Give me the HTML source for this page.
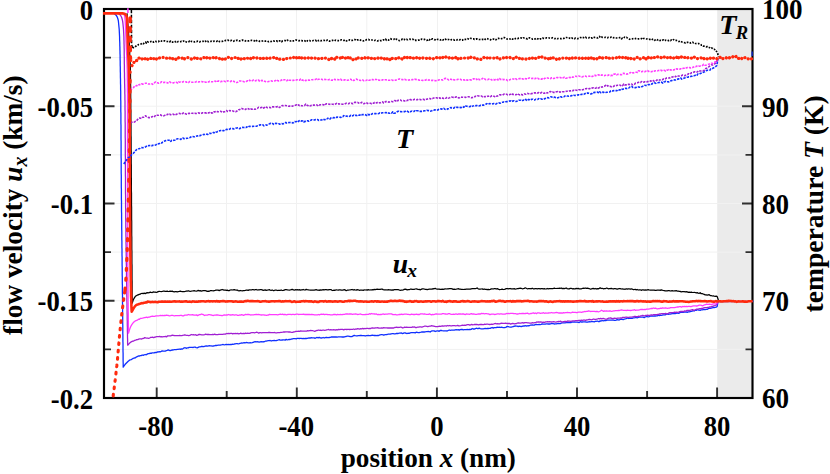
<!DOCTYPE html>
<html>
<head>
<meta charset="utf-8">
<title>Flow velocity and temperature profiles</title>
<style>
html,body{margin:0;padding:0;background:#fff;}
body{width:830px;height:474px;overflow:hidden;font-family:"Liberation Serif",serif;}
svg{display:block;}
</style>
</head>
<body>
<svg width="830" height="474" viewBox="0 0 830 474">
<rect x="0" y="0" width="830" height="474" fill="#ffffff"/>
<rect x="717.2" y="9.0" width="35.3" height="389.0" fill="#ebebeb"/>
<path d="M156.5 9.0 V398.0 M226.5 9.0 V398.0 M296.5 9.0 V398.0 M366.8 9.0 V398.0 M437.5 9.0 V398.0 M507.5 9.0 V398.0 M577.5 9.0 V398.0 M647.5 9.0 V398.0 M104.0 57.6 H752.5 M104.0 106.2 H752.5 M104.0 154.9 H752.5 M104.0 203.5 H752.5 M104.0 252.1 H752.5 M104.0 300.8 H752.5 M104.0 349.4 H752.5" stroke="#f1f1f1" stroke-width="1" fill="none"/>
<path d="M104.0 57.6 h7.0 M104.0 106.2 h10.5 M752.5 106.2 h-10.5 M104.0 154.9 h7.0 M752.5 154.9 h-7.0 M104.0 203.5 h10.5 M752.5 203.5 h-10.5 M104.0 252.1 h7.0 M752.5 252.1 h-7.0 M104.0 300.8 h10.5 M104.0 349.4 h7.0 M752.5 349.4 h-7.0 M156.7 398.0 v-10.5 M226.7 398.0 v-7.0 M296.8 398.0 v-10.5 M366.8 398.0 v-7.0 M436.9 398.0 v-10.5 M507.0 398.0 v-7.0 M577.0 398.0 v-10.5 M647.1 398.0 v-7.0 M717.1 398.0 v-10.5" stroke="#303030" stroke-width="1.9" fill="none"/>
<rect x="104.0" y="9.0" width="648.5" height="389.0" fill="none" stroke="#000" stroke-width="2.15"/>
<defs><clipPath id="c"><rect x="103.0" y="7.8" width="650.7" height="391.2"/></clipPath></defs>
<g clip-path="url(#c)" fill="none" stroke-linejoin="round">
<path d="M127.0 13.2 L127.2 15.2 L127.3 17.2 L127.5 19.2 L127.7 21.2 L127.8 23.2 L128.0 25.2 L128.2 27.2 L128.3 29.2 L128.4 31.2 L128.6 33.2 L128.7 35.2 L128.8 37.2 L129.0 39.2 L129.1 41.2 L129.2 43.2 L129.3 45.2 L129.4 47.2 L129.5 49.2 L129.6 51.2 L129.7 53.2 L129.8 55.2 L129.9 57.2 L130.0 59.2 L130.1 61.2 L130.2 63.2 L130.2 65.2 L130.3 67.2 L130.4 69.2 L130.4 71.2 L130.5 73.2 L130.5 75.2 L130.5 77.2 L130.6 79.2 L130.6 81.2 L130.6 83.2 L130.6 85.2 L130.7 87.2 L130.7 89.2 L130.7 91.2 L130.7 93.2 L130.7 95.2 L130.7 97.2 L130.8 99.2 L130.8 101.2 L130.8 103.2 L130.8 105.2 L130.8 107.2 L130.8 109.2 L130.9 111.2 L130.9 113.2 L130.9 115.2 L130.9 117.2 L130.9 119.2 L130.9 121.2 L131.0 123.2 L131.0 125.2 L131.0 127.2 L131.0 129.2 L131.0 131.2 L131.0 133.2 L131.0 135.2 L131.1 137.2 L131.1 139.2 L131.1 141.2 L131.1 143.2 L131.1 145.2 L131.1 147.2 L131.1 149.2 L131.2 151.2 L131.2 153.2 L131.2 155.2 L131.2 157.2 L131.2 159.2 L131.2 161.2 L131.2 163.2 L131.3 165.2 L131.3 167.2 L131.3 169.2 L131.3 171.2 L131.3 173.2 L131.3 175.2 L131.3 177.2 L131.4 179.2 L131.4 181.2 L131.4 183.2 L131.4 185.2 L131.4 187.2 L131.4 189.2 L131.4 191.2 L131.5 193.2 L131.5 195.2 L131.5 197.2 L131.5 199.2 L131.5 201.2 L131.5 203.2 L131.5 205.2 L131.6 207.2 L131.6 209.2 L131.6 211.2 L131.6 213.2 L131.6 215.2 L131.6 217.2 L131.6 219.2 L131.7 221.2 L131.7 223.2 L131.7 225.2 L131.7 227.2 L131.7 229.2 L131.7 231.2 L131.7 233.2 L131.7 235.2 L131.8 237.2 L131.8 239.2 L131.8 241.2 L131.8 243.2 L131.8 245.2 L131.8 247.2 L131.8 249.2 L131.9 251.2 L131.9 253.2 L131.9 255.2 L131.9 257.2 L131.9 259.2 L131.9 261.2 L131.9 263.2 L132.0 265.2 L132.0 267.2 L132.0 269.2 L132.0 271.2 L132.0 273.2 L132.0 275.2 L132.0 277.2 L132.0 279.2 L132.1 281.2 L132.1 283.2 L132.1 285.2 L132.1 287.2 L132.1 289.2 L132.1 291.2 L132.1 293.2 L132.1 295.2 L132.2 297.2 L132.2 299.2 L132.2 301.2 L132.2 303.2 L133.2 300.0 L134.2 298.1 L135.2 296.6 L136.2 295.8 L137.2 295.2 L138.2 294.8 L139.2 294.4 L140.2 294.2 L141.2 293.5 L142.2 293.3 L143.2 293.6 L144.2 293.2 L145.2 293.6 L146.2 293.1 L147.2 292.6 L148.2 292.9 L149.2 292.7 L150.2 292.1 L151.2 292.4 L152.2 292.6 L153.2 291.9 L154.2 292.1 L155.2 292.1 L156.2 292.4 L157.2 292.1 L158.2 291.6 L159.2 291.3 L160.2 291.5 L161.2 291.6 L162.2 291.5 L163.2 291.2 L164.2 291.2 L165.2 291.4 L166.2 291.3 L167.2 291.1 L168.2 291.5 L169.2 291.4 L170.2 291.1 L171.2 291.4 L172.2 291.1 L173.2 291.7 L174.2 291.8 L175.2 291.6 L176.2 291.6 L177.2 291.8 L178.2 291.6 L179.2 291.5 L180.2 291.1 L181.2 291.4 L182.2 291.6 L183.2 291.7 L184.2 291.6 L185.2 291.5 L186.2 291.0 L187.2 291.2 L188.2 290.7 L189.2 291.2 L190.2 291.3 L191.2 291.2 L192.2 291.0 L193.2 290.8 L194.2 290.7 L195.2 291.0 L196.2 291.2 L197.2 291.0 L198.2 290.4 L199.2 290.9 L200.2 290.7 L201.2 291.1 L202.2 290.8 L203.2 290.6 L204.2 290.6 L205.2 290.7 L206.2 290.9 L207.2 291.3 L208.2 291.1 L209.2 291.3 L210.2 290.7 L211.2 290.5 L212.2 290.7 L213.2 290.8 L214.2 290.6 L215.2 290.4 L216.2 290.0 L217.2 290.0 L218.2 290.2 L219.2 290.6 L220.2 290.1 L221.2 289.8 L222.2 289.5 L223.2 289.8 L224.2 290.2 L225.2 290.0 L226.2 290.4 L227.2 290.1 L228.2 290.6 L229.2 290.6 L230.2 290.0 L231.2 289.8 L232.2 290.0 L233.2 289.8 L234.2 289.6 L235.2 289.9 L236.2 290.1 L237.2 290.0 L238.2 290.6 L239.2 290.9 L240.2 290.5 L241.2 290.7 L242.2 290.8 L243.2 290.7 L244.2 290.6 L245.2 290.5 L246.2 290.1 L247.2 290.1 L248.2 290.4 L249.2 289.9 L250.2 289.8 L251.2 290.0 L252.2 289.7 L253.2 289.7 L254.2 290.0 L255.2 289.7 L256.2 289.5 L257.2 290.0 L258.2 289.9 L259.2 289.8 L260.2 289.7 L261.2 289.6 L262.2 289.9 L263.2 290.3 L264.2 290.1 L265.2 289.9 L266.2 290.4 L267.2 290.2 L268.2 290.0 L269.2 289.7 L270.2 290.1 L271.2 290.3 L272.2 290.0 L273.2 290.5 L274.2 290.5 L275.2 290.0 L276.2 290.0 L277.2 290.5 L278.2 290.3 L279.2 290.4 L280.2 290.3 L281.2 290.0 L282.2 290.5 L283.2 290.4 L284.2 290.2 L285.2 289.6 L286.2 289.7 L287.2 289.8 L288.2 290.0 L289.2 290.2 L290.2 290.0 L291.2 289.7 L292.2 289.4 L293.2 289.7 L294.2 290.2 L295.2 289.7 L296.2 289.8 L297.2 289.6 L298.2 290.0 L299.2 289.7 L300.2 290.1 L301.2 289.8 L302.2 289.9 L303.2 289.5 L304.2 289.9 L305.2 290.0 L306.2 289.3 L307.2 289.7 L308.2 289.8 L309.2 290.0 L310.2 290.2 L311.2 290.1 L312.2 290.2 L313.2 290.2 L314.2 290.1 L315.2 289.9 L316.2 289.7 L317.2 290.0 L318.2 290.0 L319.2 290.4 L320.2 289.8 L321.2 290.1 L322.2 289.8 L323.2 289.7 L324.2 289.8 L325.2 289.6 L326.2 289.6 L327.2 289.8 L328.2 289.9 L329.2 289.6 L330.2 289.6 L331.2 289.6 L332.2 290.5 L333.2 290.4 L334.2 290.1 L335.2 290.3 L336.2 289.8 L337.2 290.0 L338.2 290.2 L339.2 289.9 L340.2 289.9 L341.2 290.1 L342.2 290.0 L343.2 290.0 L344.2 289.6 L345.2 289.9 L346.2 290.7 L347.2 290.2 L348.2 290.2 L349.2 290.0 L350.2 289.8 L351.2 289.7 L352.2 289.5 L353.2 290.0 L354.2 289.7 L355.2 290.0 L356.2 290.1 L357.2 289.7 L358.2 289.8 L359.2 290.3 L360.2 290.2 L361.2 290.2 L362.2 290.2 L363.2 290.3 L364.2 289.9 L365.2 290.0 L366.2 289.8 L367.2 290.1 L368.2 289.6 L369.2 290.0 L370.2 289.9 L371.2 290.0 L372.2 289.7 L373.2 289.8 L374.2 289.4 L375.2 289.6 L376.2 289.3 L377.2 289.2 L378.2 289.3 L379.2 289.4 L380.2 289.4 L381.2 289.2 L382.2 289.1 L383.2 289.6 L384.2 289.8 L385.2 289.9 L386.2 289.8 L387.2 290.0 L388.2 289.7 L389.2 289.9 L390.2 289.8 L391.2 290.1 L392.2 289.9 L393.2 290.1 L394.2 289.7 L395.2 289.7 L396.2 289.5 L397.2 289.6 L398.2 289.7 L399.2 290.0 L400.2 290.3 L401.2 290.2 L402.2 290.2 L403.2 290.0 L404.2 289.4 L405.2 289.1 L406.2 289.4 L407.2 289.9 L408.2 289.7 L409.2 289.7 L410.2 289.2 L411.2 289.1 L412.2 289.4 L413.2 289.4 L414.2 289.3 L415.2 289.0 L416.2 288.9 L417.2 289.1 L418.2 289.5 L419.2 289.3 L420.2 289.9 L421.2 289.3 L422.2 288.9 L423.2 288.8 L424.2 289.0 L425.2 289.3 L426.2 289.3 L427.2 289.6 L428.2 289.3 L429.2 289.2 L430.2 289.2 L431.2 289.0 L432.2 289.1 L433.2 288.7 L434.2 288.8 L435.2 288.3 L436.2 289.0 L437.2 289.1 L438.2 289.1 L439.2 289.1 L440.2 289.4 L441.2 289.4 L442.2 289.1 L443.2 289.4 L444.2 289.1 L445.2 288.8 L446.2 289.0 L447.2 288.8 L448.2 288.9 L449.2 288.7 L450.2 288.7 L451.2 288.7 L452.2 288.9 L453.2 289.4 L454.2 289.2 L455.2 289.3 L456.2 289.2 L457.2 289.0 L458.2 288.7 L459.2 289.1 L460.2 289.2 L461.2 289.3 L462.2 289.3 L463.2 289.5 L464.2 289.4 L465.2 289.3 L466.2 289.1 L467.2 289.2 L468.2 289.1 L469.2 289.2 L470.2 289.1 L471.2 288.8 L472.2 288.6 L473.2 288.6 L474.2 288.6 L475.2 288.7 L476.2 288.4 L477.2 288.0 L478.2 288.9 L479.2 289.1 L480.2 289.2 L481.2 289.0 L482.2 288.9 L483.2 289.3 L484.2 289.0 L485.2 289.4 L486.2 289.4 L487.2 289.7 L488.2 289.3 L489.2 289.7 L490.2 289.5 L491.2 288.9 L492.2 288.8 L493.2 289.0 L494.2 288.7 L495.2 288.6 L496.2 289.0 L497.2 288.7 L498.2 289.1 L499.2 289.5 L500.2 289.5 L501.2 289.4 L502.2 289.1 L503.2 289.5 L504.2 289.4 L505.2 289.1 L506.2 288.7 L507.2 288.5 L508.2 288.9 L509.2 288.7 L510.2 288.5 L511.2 288.9 L512.2 288.9 L513.2 288.8 L514.2 288.7 L515.2 289.1 L516.2 289.0 L517.2 288.7 L518.2 288.7 L519.2 288.3 L520.2 288.2 L521.2 288.3 L522.2 288.8 L523.2 288.7 L524.2 288.5 L525.2 287.8 L526.2 288.3 L527.2 288.8 L528.2 288.7 L529.2 288.5 L530.2 288.5 L531.2 288.8 L532.2 288.2 L533.2 288.8 L534.2 288.8 L535.2 288.6 L536.2 288.7 L537.2 288.8 L538.2 288.6 L539.2 288.7 L540.2 288.9 L541.2 288.6 L542.2 288.6 L543.2 288.8 L544.2 288.7 L545.2 288.9 L546.2 289.0 L547.2 288.5 L548.2 288.9 L549.2 288.7 L550.2 288.7 L551.2 288.7 L552.2 288.5 L553.2 288.5 L554.2 288.2 L555.2 288.4 L556.2 288.5 L557.2 288.4 L558.2 288.5 L559.2 288.2 L560.2 288.3 L561.2 288.0 L562.2 288.6 L563.2 288.3 L564.2 288.6 L565.2 288.3 L566.2 288.0 L567.2 288.6 L568.2 288.8 L569.2 288.8 L570.2 288.4 L571.2 288.3 L572.2 288.8 L573.2 288.7 L574.2 288.8 L575.2 288.8 L576.2 288.4 L577.2 288.6 L578.2 288.4 L579.2 288.8 L580.2 288.8 L581.2 288.8 L582.2 288.5 L583.2 288.2 L584.2 288.3 L585.2 288.0 L586.2 288.3 L587.2 288.2 L588.2 288.4 L589.2 288.7 L590.2 289.0 L591.2 289.0 L592.2 288.6 L593.2 288.4 L594.2 288.8 L595.2 288.5 L596.2 289.0 L597.2 288.6 L598.2 288.9 L599.2 288.4 L600.2 287.8 L601.2 288.5 L602.2 288.3 L603.2 288.8 L604.2 288.6 L605.2 288.7 L606.2 288.2 L607.2 288.2 L608.2 288.8 L609.2 288.6 L610.2 288.6 L611.2 288.3 L612.2 288.7 L613.2 289.0 L614.2 288.6 L615.2 288.7 L616.2 288.8 L617.2 289.1 L618.2 288.8 L619.2 288.5 L620.2 288.6 L621.2 289.0 L622.2 288.8 L623.2 289.1 L624.2 289.2 L625.2 289.3 L626.2 288.7 L627.2 289.2 L628.2 288.9 L629.2 288.8 L630.2 289.3 L631.2 288.8 L632.2 289.1 L633.2 289.5 L634.2 289.5 L635.2 289.3 L636.2 289.9 L637.2 289.5 L638.2 290.0 L639.2 289.9 L640.2 289.8 L641.2 290.3 L642.2 289.9 L643.2 289.8 L644.2 290.1 L645.2 289.9 L646.2 290.1 L647.2 289.8 L648.2 289.7 L649.2 290.0 L650.2 290.2 L651.2 290.0 L652.2 290.0 L653.2 290.2 L654.2 290.1 L655.2 290.4 L656.2 290.3 L657.2 290.0 L658.2 290.0 L659.2 290.0 L660.2 290.4 L661.2 289.8 L662.2 290.2 L663.2 290.5 L664.2 290.6 L665.2 290.8 L666.2 290.9 L667.2 290.9 L668.2 290.7 L669.2 290.7 L670.2 291.0 L671.2 290.8 L672.2 290.7 L673.2 291.0 L674.2 290.8 L675.2 290.9 L676.2 290.6 L677.2 291.0 L678.2 291.0 L679.2 291.4 L680.2 291.4 L681.2 291.8 L682.2 291.7 L683.2 291.7 L684.2 291.6 L685.2 291.8 L686.2 291.7 L687.2 291.8 L688.2 292.4 L689.2 292.1 L690.2 292.3 L691.2 292.2 L692.2 292.4 L693.2 292.5 L694.2 292.4 L695.2 292.5 L696.2 292.9 L697.2 292.7 L698.2 293.1 L699.2 293.3 L700.2 292.7 L701.2 293.7 L702.2 293.6 L703.2 294.0 L704.2 294.4 L705.2 294.8 L706.2 294.8 L707.2 295.1 L708.2 294.9 L709.2 294.7 L710.2 295.5 L711.2 295.5 L712.2 296.0 L713.2 295.9 L714.2 296.2 L715.2 296.4 L716.2 296.1 L717.2 296.6 L718.2 299.5 L718.3 301.4" stroke="#000000" stroke-width="1.25"/>
<path d="M103.0 13.3 L112.3 13.3 L113.8 13.2 L116.1 15.2 L117.3 17.2 L118.0 19.2 L118.4 21.2 L118.6 23.2 L118.8 25.2 L119.0 27.2 L119.2 29.2 L119.3 31.2 L119.4 33.2 L119.5 35.2 L119.6 37.2 L119.6 39.2 L119.7 41.2 L119.8 43.2 L119.8 45.2 L119.9 47.2 L119.9 49.2 L120.0 51.2 L120.0 53.2 L120.1 55.2 L120.1 57.2 L120.1 59.2 L120.2 61.2 L120.2 63.2 L120.2 65.2 L120.3 67.2 L120.3 69.2 L120.3 71.2 L120.4 73.2 L120.4 75.2 L120.4 77.2 L120.5 79.2 L120.5 81.2 L120.5 83.2 L120.6 85.2 L120.6 87.2 L120.6 89.2 L120.7 91.2 L120.7 93.2 L120.7 95.2 L120.7 97.2 L120.7 99.2 L120.8 101.2 L120.8 103.2 L120.8 105.2 L120.8 107.2 L120.8 109.2 L120.8 111.2 L120.9 113.2 L120.9 115.2 L120.9 117.2 L120.9 119.2 L120.9 121.2 L120.9 123.2 L121.0 125.2 L121.0 127.2 L121.0 129.2 L121.0 131.2 L121.0 133.2 L121.0 135.2 L121.0 137.2 L121.0 139.2 L121.1 141.2 L121.1 143.2 L121.1 145.2 L121.1 147.2 L121.1 149.2 L121.1 151.2 L121.1 153.2 L121.1 155.2 L121.1 157.2 L121.2 159.2 L121.2 161.2 L121.2 163.2 L121.2 165.2 L121.2 167.2 L121.2 169.2 L121.2 171.2 L121.2 173.2 L121.3 175.2 L121.3 177.2 L121.3 179.2 L121.3 181.2 L121.3 183.2 L121.3 185.2 L121.3 187.2 L121.4 189.2 L121.4 191.2 L121.4 193.2 L121.4 195.2 L121.4 197.2 L121.4 199.2 L121.5 201.2 L121.5 203.2 L121.5 205.2 L121.5 207.2 L121.5 209.2 L121.5 211.2 L121.6 213.2 L121.6 215.2 L121.6 217.2 L121.6 219.2 L121.7 221.2 L121.7 223.2 L121.7 225.2 L121.7 227.2 L121.7 229.2 L121.8 231.2 L121.8 233.2 L121.8 235.2 L121.8 237.2 L121.8 239.2 L121.9 241.2 L121.9 243.2 L121.9 245.2 L121.9 247.2 L122.0 249.2 L122.0 251.2 L122.0 253.2 L122.0 255.2 L122.1 257.2 L122.1 259.2 L122.1 261.2 L122.1 263.2 L122.1 265.2 L122.2 267.2 L122.2 269.2 L122.2 271.2 L122.2 273.2 L122.2 275.2 L122.3 277.2 L122.3 279.2 L122.3 281.2 L122.3 283.2 L122.4 285.2 L122.4 287.2 L122.4 289.2 L122.4 291.2 L122.4 293.2 L122.5 295.2 L122.5 297.2 L122.5 299.2 L122.5 301.2 L122.5 303.2 L122.6 305.2 L122.6 307.2 L122.6 309.2 L122.6 311.2 L122.6 313.2 L122.7 315.2 L122.7 317.2 L122.7 319.2 L122.7 321.2 L122.7 323.2 L122.8 325.2 L122.8 327.2 L122.8 329.2 L122.8 331.2 L122.8 333.2 L122.9 335.2 L122.9 337.2 L122.9 339.2 L122.9 341.2 L123.0 343.2 L123.0 345.2 L123.0 347.2 L123.0 349.2 L123.0 351.2 L123.1 353.2 L123.1 355.2 L123.1 357.2 L123.1 359.2 L123.1 361.2 L123.2 363.2 L123.2 365.2 L123.2 367.2 L124.2 365.7 L125.2 364.3 L126.2 363.2 L127.2 362.2 L128.2 361.2 L129.2 360.4 L130.2 359.8 L131.2 359.6 L132.2 359.0 L133.2 358.4 L134.2 358.0 L135.2 357.9 L136.2 357.1 L137.2 356.7 L138.2 356.0 L139.2 356.1 L140.2 355.7 L141.2 355.6 L142.2 355.0 L143.2 355.4 L144.2 354.8 L145.2 354.5 L146.2 354.8 L147.2 354.1 L148.2 353.6 L149.2 353.6 L150.2 353.2 L151.2 353.4 L152.2 352.8 L153.2 352.8 L154.2 352.9 L155.2 352.4 L156.2 352.6 L157.2 352.0 L158.2 352.0 L159.2 351.6 L160.2 351.8 L161.2 351.4 L162.2 350.9 L163.2 351.2 L164.2 351.1 L165.2 351.2 L166.2 350.6 L167.2 350.3 L168.2 349.9 L169.2 350.3 L170.2 350.7 L171.2 350.3 L172.2 349.9 L173.2 350.0 L174.2 349.7 L175.2 349.7 L176.2 349.6 L177.2 349.4 L178.2 349.3 L179.2 349.0 L180.2 349.3 L181.2 348.8 L182.2 349.1 L183.2 348.5 L184.2 347.8 L185.2 347.7 L186.2 348.3 L187.2 347.9 L188.2 347.8 L189.2 347.3 L190.2 347.4 L191.2 347.4 L192.2 347.3 L193.2 347.5 L194.2 347.1 L195.2 347.2 L196.2 347.7 L197.2 347.8 L198.2 347.3 L199.2 346.9 L200.2 346.9 L201.2 346.5 L202.2 346.4 L203.2 346.6 L204.2 346.5 L205.2 346.1 L206.2 345.8 L207.2 346.1 L208.2 346.0 L209.2 345.7 L210.2 345.9 L211.2 345.9 L212.2 346.1 L213.2 346.0 L214.2 345.9 L215.2 345.5 L216.2 345.5 L217.2 345.3 L218.2 345.2 L219.2 345.2 L220.2 345.1 L221.2 344.8 L222.2 344.7 L223.2 344.5 L224.2 344.8 L225.2 344.7 L226.2 344.5 L227.2 344.7 L228.2 344.5 L229.2 344.6 L230.2 344.4 L231.2 344.7 L232.2 344.1 L233.2 344.3 L234.2 344.0 L235.2 343.9 L236.2 343.7 L237.2 343.6 L238.2 343.9 L239.2 343.7 L240.2 343.3 L241.2 343.0 L242.2 343.1 L243.2 342.9 L244.2 342.7 L245.2 342.9 L246.2 342.5 L247.2 342.6 L248.2 342.9 L249.2 342.8 L250.2 342.7 L251.2 342.8 L252.2 342.7 L253.2 342.3 L254.2 341.9 L255.2 341.6 L256.2 341.9 L257.2 341.7 L258.2 341.8 L259.2 342.2 L260.2 341.9 L261.2 341.6 L262.2 341.9 L263.2 341.7 L264.2 341.8 L265.2 341.2 L266.2 341.1 L267.2 340.8 L268.2 340.7 L269.2 340.6 L270.2 340.5 L271.2 341.0 L272.2 340.6 L273.2 340.6 L274.2 340.3 L275.2 340.6 L276.2 340.7 L277.2 340.3 L278.2 340.0 L279.2 339.7 L280.2 340.1 L281.2 340.2 L282.2 340.0 L283.2 339.8 L284.2 339.8 L285.2 340.1 L286.2 339.4 L287.2 339.8 L288.2 339.6 L289.2 339.3 L290.2 339.5 L291.2 339.2 L292.2 339.0 L293.2 338.6 L294.2 338.7 L295.2 338.6 L296.2 338.8 L297.2 338.4 L298.2 338.4 L299.2 338.5 L300.2 338.4 L301.2 338.3 L302.2 338.6 L303.2 338.5 L304.2 338.6 L305.2 338.4 L306.2 338.5 L307.2 338.4 L308.2 338.1 L309.2 337.8 L310.2 338.1 L311.2 337.7 L312.2 337.9 L313.2 337.9 L314.2 337.8 L315.2 338.3 L316.2 337.7 L317.2 337.5 L318.2 337.9 L319.2 337.3 L320.2 337.9 L321.2 338.0 L322.2 337.9 L323.2 337.5 L324.2 338.0 L325.2 337.6 L326.2 337.3 L327.2 337.5 L328.2 337.6 L329.2 337.5 L330.2 337.4 L331.2 337.0 L332.2 337.0 L333.2 336.8 L334.2 337.0 L335.2 337.0 L336.2 336.8 L337.2 337.1 L338.2 336.9 L339.2 336.9 L340.2 336.9 L341.2 336.8 L342.2 337.0 L343.2 336.8 L344.2 337.0 L345.2 336.6 L346.2 336.5 L347.2 336.1 L348.2 336.2 L349.2 336.3 L350.2 336.5 L351.2 336.6 L352.2 336.5 L353.2 335.9 L354.2 335.4 L355.2 335.7 L356.2 335.8 L357.2 335.9 L358.2 335.7 L359.2 335.6 L360.2 335.5 L361.2 335.4 L362.2 335.6 L363.2 335.7 L364.2 335.6 L365.2 336.0 L366.2 335.6 L367.2 335.6 L368.2 335.3 L369.2 335.6 L370.2 335.6 L371.2 335.5 L372.2 335.1 L373.2 335.4 L374.2 335.5 L375.2 335.5 L376.2 335.6 L377.2 335.4 L378.2 335.7 L379.2 335.1 L380.2 334.8 L381.2 334.7 L382.2 334.7 L383.2 335.0 L384.2 335.0 L385.2 334.6 L386.2 334.6 L387.2 334.5 L388.2 334.2 L389.2 334.2 L390.2 334.2 L391.2 333.8 L392.2 333.7 L393.2 333.7 L394.2 333.9 L395.2 333.9 L396.2 333.5 L397.2 333.5 L398.2 333.5 L399.2 333.2 L400.2 333.1 L401.2 332.9 L402.2 333.5 L403.2 333.3 L404.2 332.8 L405.2 332.8 L406.2 333.3 L407.2 333.5 L408.2 333.2 L409.2 333.3 L410.2 332.9 L411.2 332.7 L412.2 332.6 L413.2 332.7 L414.2 332.6 L415.2 332.9 L416.2 332.2 L417.2 332.3 L418.2 332.6 L419.2 332.6 L420.2 332.3 L421.2 332.2 L422.2 331.8 L423.2 332.0 L424.2 332.0 L425.2 331.8 L426.2 331.7 L427.2 331.7 L428.2 331.5 L429.2 331.6 L430.2 332.0 L431.2 331.2 L432.2 330.9 L433.2 330.9 L434.2 330.9 L435.2 331.5 L436.2 331.1 L437.2 330.9 L438.2 330.8 L439.2 331.3 L440.2 330.5 L441.2 330.5 L442.2 330.7 L443.2 330.8 L444.2 330.8 L445.2 330.8 L446.2 330.9 L447.2 331.0 L448.2 330.5 L449.2 330.0 L450.2 330.3 L451.2 330.2 L452.2 330.1 L453.2 330.2 L454.2 330.2 L455.2 329.9 L456.2 329.6 L457.2 329.8 L458.2 329.7 L459.2 330.1 L460.2 329.6 L461.2 329.5 L462.2 329.4 L463.2 329.8 L464.2 329.6 L465.2 329.6 L466.2 329.7 L467.2 329.5 L468.2 329.6 L469.2 329.5 L470.2 329.5 L471.2 329.4 L472.2 328.5 L473.2 329.0 L474.2 329.0 L475.2 328.8 L476.2 328.2 L477.2 328.5 L478.2 328.7 L479.2 328.2 L480.2 328.7 L481.2 328.8 L482.2 328.8 L483.2 328.9 L484.2 328.7 L485.2 328.5 L486.2 328.6 L487.2 328.5 L488.2 328.5 L489.2 328.4 L490.2 328.4 L491.2 327.9 L492.2 327.5 L493.2 328.1 L494.2 327.6 L495.2 327.6 L496.2 327.6 L497.2 327.2 L498.2 327.3 L499.2 327.2 L500.2 327.5 L501.2 327.2 L502.2 327.4 L503.2 327.7 L504.2 327.6 L505.2 327.5 L506.2 327.1 L507.2 326.4 L508.2 326.6 L509.2 326.9 L510.2 327.1 L511.2 327.1 L512.2 326.8 L513.2 326.5 L514.2 326.3 L515.2 325.8 L516.2 326.1 L517.2 326.2 L518.2 326.6 L519.2 326.2 L520.2 326.3 L521.2 326.5 L522.2 326.3 L523.2 325.9 L524.2 326.1 L525.2 325.6 L526.2 326.0 L527.2 325.8 L528.2 325.6 L529.2 325.8 L530.2 325.2 L531.2 325.2 L532.2 324.9 L533.2 325.2 L534.2 325.1 L535.2 324.6 L536.2 324.4 L537.2 324.6 L538.2 324.7 L539.2 324.4 L540.2 324.6 L541.2 324.4 L542.2 323.8 L543.2 324.1 L544.2 324.1 L545.2 324.1 L546.2 323.8 L547.2 323.8 L548.2 324.0 L549.2 323.8 L550.2 324.0 L551.2 323.7 L552.2 323.7 L553.2 323.6 L554.2 324.0 L555.2 323.9 L556.2 323.9 L557.2 323.6 L558.2 323.4 L559.2 323.6 L560.2 323.6 L561.2 323.1 L562.2 322.8 L563.2 322.8 L564.2 322.9 L565.2 322.9 L566.2 322.5 L567.2 322.7 L568.2 322.5 L569.2 322.7 L570.2 322.5 L571.2 322.5 L572.2 321.8 L573.2 322.1 L574.2 321.9 L575.2 322.2 L576.2 322.1 L577.2 322.2 L578.2 322.3 L579.2 322.5 L580.2 321.7 L581.2 322.0 L582.2 322.0 L583.2 321.9 L584.2 321.8 L585.2 321.8 L586.2 322.0 L587.2 322.1 L588.2 322.0 L589.2 321.7 L590.2 321.8 L591.2 321.7 L592.2 321.6 L593.2 321.6 L594.2 321.8 L595.2 321.4 L596.2 321.4 L597.2 321.0 L598.2 321.5 L599.2 321.6 L600.2 320.9 L601.2 321.0 L602.2 320.5 L603.2 320.9 L604.2 320.6 L605.2 320.4 L606.2 320.5 L607.2 320.1 L608.2 320.1 L609.2 320.2 L610.2 320.2 L611.2 320.1 L612.2 320.1 L613.2 320.0 L614.2 320.4 L615.2 320.4 L616.2 320.1 L617.2 319.6 L618.2 319.8 L619.2 320.0 L620.2 319.5 L621.2 319.2 L622.2 319.3 L623.2 319.6 L624.2 319.1 L625.2 318.9 L626.2 318.6 L627.2 318.0 L628.2 318.5 L629.2 318.1 L630.2 318.4 L631.2 318.3 L632.2 318.3 L633.2 317.9 L634.2 317.8 L635.2 317.7 L636.2 317.5 L637.2 317.9 L638.2 317.5 L639.2 317.2 L640.2 317.2 L641.2 317.1 L642.2 317.2 L643.2 317.1 L644.2 317.6 L645.2 317.0 L646.2 316.7 L647.2 316.6 L648.2 316.8 L649.2 316.7 L650.2 316.2 L651.2 316.2 L652.2 316.0 L653.2 316.1 L654.2 316.0 L655.2 316.0 L656.2 315.8 L657.2 315.9 L658.2 315.1 L659.2 315.6 L660.2 315.4 L661.2 315.3 L662.2 315.2 L663.2 314.8 L664.2 314.8 L665.2 314.8 L666.2 314.4 L667.2 313.9 L668.2 314.3 L669.2 314.1 L670.2 314.2 L671.2 313.9 L672.2 313.6 L673.2 313.5 L674.2 313.4 L675.2 313.5 L676.2 313.3 L677.2 313.0 L678.2 313.4 L679.2 313.1 L680.2 312.4 L681.2 312.2 L682.2 312.4 L683.2 312.3 L684.2 312.1 L685.2 312.1 L686.2 311.9 L687.2 312.3 L688.2 311.8 L689.2 311.8 L690.2 311.6 L691.2 311.4 L692.2 311.1 L693.2 310.7 L694.2 311.0 L695.2 310.3 L696.2 310.4 L697.2 309.7 L698.2 310.0 L699.2 310.1 L700.2 310.4 L701.2 309.8 L702.2 309.8 L703.2 309.6 L704.2 309.5 L705.2 309.6 L706.2 309.4 L707.2 309.4 L708.2 308.7 L709.2 308.3 L710.2 308.4 L711.2 308.2 L712.2 307.8 L713.2 307.5 L714.2 307.7 L715.2 307.3 L716.2 307.2 L717.2 306.5 L718.0 301.6 L753.6 301.4" stroke="#0f2fff" stroke-width="1.3"/>
<path d="M103.0 13.3 L116.8 13.3 L118.3 13.2 L120.5 15.2 L121.6 17.2 L122.2 19.2 L122.6 21.2 L122.9 23.2 L123.1 25.2 L123.3 27.2 L123.5 29.2 L123.6 31.2 L123.7 33.2 L123.8 35.2 L123.9 37.2 L123.9 39.2 L124.0 41.2 L124.0 43.2 L124.1 45.2 L124.1 47.2 L124.2 49.2 L124.2 51.2 L124.2 53.2 L124.2 55.2 L124.3 57.2 L124.3 59.2 L124.3 61.2 L124.3 63.2 L124.4 65.2 L124.4 67.2 L124.4 69.2 L124.4 71.2 L124.5 73.2 L124.5 75.2 L124.5 77.2 L124.6 79.2 L124.6 81.2 L124.6 83.2 L124.7 85.2 L124.7 87.2 L124.8 89.2 L124.8 91.2 L124.8 93.2 L124.9 95.2 L124.9 97.2 L124.9 99.2 L125.0 101.2 L125.0 103.2 L125.0 105.2 L125.0 107.2 L125.0 109.2 L125.1 111.2 L125.1 113.2 L125.1 115.2 L125.1 117.2 L125.1 119.2 L125.1 121.2 L125.2 123.2 L125.2 125.2 L125.2 127.2 L125.2 129.2 L125.2 131.2 L125.2 133.2 L125.2 135.2 L125.2 137.2 L125.3 139.2 L125.3 141.2 L125.3 143.2 L125.3 145.2 L125.3 147.2 L125.3 149.2 L125.3 151.2 L125.3 153.2 L125.3 155.2 L125.4 157.2 L125.4 159.2 L125.4 161.2 L125.4 163.2 L125.4 165.2 L125.4 167.2 L125.4 169.2 L125.4 171.2 L125.4 173.2 L125.4 175.2 L125.5 177.2 L125.5 179.2 L125.5 181.2 L125.5 183.2 L125.5 185.2 L125.5 187.2 L125.5 189.2 L125.5 191.2 L125.5 193.2 L125.6 195.2 L125.6 197.2 L125.6 199.2 L125.6 201.2 L125.6 203.2 L125.6 205.2 L125.6 207.2 L125.7 209.2 L125.7 211.2 L125.7 213.2 L125.7 215.2 L125.7 217.2 L125.7 219.2 L125.8 221.2 L125.8 223.2 L125.8 225.2 L125.8 227.2 L125.9 229.2 L125.9 231.2 L125.9 233.2 L125.9 235.2 L126.0 237.2 L126.0 239.2 L126.0 241.2 L126.0 243.2 L126.1 245.2 L126.1 247.2 L126.1 249.2 L126.2 251.2 L126.2 253.2 L126.2 255.2 L126.3 257.2 L126.3 259.2 L126.3 261.2 L126.3 263.2 L126.4 265.2 L126.4 267.2 L126.4 269.2 L126.5 271.2 L126.5 273.2 L126.5 275.2 L126.6 277.2 L126.6 279.2 L126.6 281.2 L126.6 283.2 L126.7 285.2 L126.7 287.2 L126.7 289.2 L126.8 291.2 L126.8 293.2 L126.8 295.2 L126.9 297.2 L126.9 299.2 L126.9 301.2 L127.0 303.2 L127.0 305.2 L127.0 307.2 L127.1 309.2 L127.1 311.2 L127.1 313.2 L127.2 315.2 L127.2 317.2 L127.2 319.2 L127.3 321.2 L127.3 323.2 L127.3 325.2 L127.4 327.2 L127.4 329.2 L127.4 331.2 L127.5 333.2 L127.5 335.2 L127.5 337.2 L127.6 339.2 L127.6 341.2 L127.6 343.2 L127.7 345.2 L128.7 344.1 L129.7 343.0 L130.7 342.2 L131.7 341.7 L132.7 341.2 L133.7 341.1 L134.7 340.3 L135.7 340.2 L136.7 339.7 L137.7 339.6 L138.7 339.1 L139.7 338.9 L140.7 338.9 L141.7 339.0 L142.7 338.5 L143.7 338.4 L144.7 337.6 L145.7 337.9 L146.7 338.1 L147.7 338.2 L148.7 338.4 L149.7 338.0 L150.7 337.3 L151.7 337.4 L152.7 337.1 L153.7 337.7 L154.7 337.1 L155.7 337.0 L156.7 336.6 L157.7 336.6 L158.7 336.7 L159.7 336.4 L160.7 336.8 L161.7 336.6 L162.7 336.8 L163.7 336.7 L164.7 336.7 L165.7 336.3 L166.7 336.8 L167.7 335.8 L168.7 335.9 L169.7 335.9 L170.7 335.8 L171.7 335.4 L172.7 335.2 L173.7 335.5 L174.7 335.6 L175.7 335.6 L176.7 335.7 L177.7 335.7 L178.7 335.7 L179.7 335.5 L180.7 335.6 L181.7 335.7 L182.7 335.4 L183.7 335.2 L184.7 334.8 L185.7 335.2 L186.7 335.4 L187.7 335.3 L188.7 335.6 L189.7 335.3 L190.7 334.8 L191.7 334.5 L192.7 334.8 L193.7 334.7 L194.7 335.0 L195.7 334.7 L196.7 335.4 L197.7 335.2 L198.7 334.4 L199.7 334.5 L200.7 334.6 L201.7 334.8 L202.7 334.8 L203.7 334.8 L204.7 334.7 L205.7 334.2 L206.7 334.5 L207.7 334.5 L208.7 334.5 L209.7 334.7 L210.7 334.7 L211.7 334.6 L212.7 334.4 L213.7 334.6 L214.7 334.2 L215.7 334.6 L216.7 334.6 L217.7 334.7 L218.7 334.4 L219.7 334.3 L220.7 334.3 L221.7 334.3 L222.7 334.3 L223.7 334.1 L224.7 334.2 L225.7 334.0 L226.7 333.5 L227.7 333.6 L228.7 333.3 L229.7 333.7 L230.7 333.4 L231.7 333.4 L232.7 333.9 L233.7 333.5 L234.7 333.6 L235.7 333.5 L236.7 333.6 L237.7 333.4 L238.7 333.8 L239.7 333.7 L240.7 333.1 L241.7 333.6 L242.7 333.5 L243.7 333.3 L244.7 333.6 L245.7 333.1 L246.7 333.5 L247.7 333.2 L248.7 333.3 L249.7 333.3 L250.7 332.8 L251.7 332.7 L252.7 332.6 L253.7 332.6 L254.7 332.8 L255.7 332.5 L256.7 332.2 L257.7 332.5 L258.7 333.2 L259.7 332.7 L260.7 332.6 L261.7 332.9 L262.7 332.7 L263.7 332.7 L264.7 332.7 L265.7 332.7 L266.7 332.6 L267.7 332.7 L268.7 332.5 L269.7 332.5 L270.7 332.7 L271.7 332.6 L272.7 332.7 L273.7 332.7 L274.7 332.5 L275.7 332.8 L276.7 332.8 L277.7 332.7 L278.7 332.7 L279.7 332.6 L280.7 332.4 L281.7 332.3 L282.7 332.2 L283.7 332.0 L284.7 332.0 L285.7 331.8 L286.7 331.8 L287.7 331.8 L288.7 332.0 L289.7 331.8 L290.7 332.2 L291.7 332.4 L292.7 332.3 L293.7 331.8 L294.7 331.8 L295.7 331.4 L296.7 331.4 L297.7 331.3 L298.7 331.2 L299.7 331.3 L300.7 330.9 L301.7 331.2 L302.7 331.1 L303.7 331.2 L304.7 331.1 L305.7 331.1 L306.7 331.1 L307.7 330.7 L308.7 330.8 L309.7 330.6 L310.7 330.4 L311.7 330.6 L312.7 330.7 L313.7 331.0 L314.7 331.3 L315.7 330.8 L316.7 330.5 L317.7 330.3 L318.7 330.0 L319.7 330.3 L320.7 330.1 L321.7 330.5 L322.7 330.2 L323.7 330.2 L324.7 330.3 L325.7 330.2 L326.7 329.8 L327.7 329.7 L328.7 329.5 L329.7 330.0 L330.7 329.6 L331.7 329.9 L332.7 329.8 L333.7 329.7 L334.7 329.8 L335.7 330.0 L336.7 329.7 L337.7 329.8 L338.7 329.3 L339.7 329.6 L340.7 329.3 L341.7 329.4 L342.7 329.4 L343.7 329.9 L344.7 329.4 L345.7 329.3 L346.7 329.5 L347.7 329.4 L348.7 329.4 L349.7 329.5 L350.7 329.3 L351.7 329.3 L352.7 329.3 L353.7 329.0 L354.7 329.5 L355.7 329.0 L356.7 329.1 L357.7 328.7 L358.7 328.8 L359.7 329.1 L360.7 328.7 L361.7 328.8 L362.7 328.3 L363.7 328.9 L364.7 328.5 L365.7 328.6 L366.7 328.4 L367.7 328.4 L368.7 328.7 L369.7 328.5 L370.7 328.5 L371.7 328.0 L372.7 328.0 L373.7 328.1 L374.7 328.0 L375.7 327.8 L376.7 327.8 L377.7 327.7 L378.7 328.2 L379.7 328.1 L380.7 328.1 L381.7 327.9 L382.7 328.1 L383.7 327.6 L384.7 327.9 L385.7 327.8 L386.7 327.9 L387.7 328.0 L388.7 327.9 L389.7 328.0 L390.7 328.0 L391.7 328.0 L392.7 327.9 L393.7 328.0 L394.7 327.5 L395.7 327.3 L396.7 327.2 L397.7 327.5 L398.7 327.3 L399.7 327.3 L400.7 327.0 L401.7 327.4 L402.7 328.0 L403.7 327.7 L404.7 327.2 L405.7 327.4 L406.7 327.2 L407.7 327.4 L408.7 327.4 L409.7 327.4 L410.7 327.4 L411.7 327.3 L412.7 326.9 L413.7 327.2 L414.7 327.0 L415.7 327.6 L416.7 327.5 L417.7 327.2 L418.7 327.2 L419.7 326.9 L420.7 326.8 L421.7 327.1 L422.7 326.8 L423.7 326.5 L424.7 326.2 L425.7 326.2 L426.7 326.3 L427.7 326.6 L428.7 326.3 L429.7 326.2 L430.7 326.2 L431.7 325.7 L432.7 326.0 L433.7 326.1 L434.7 326.4 L435.7 326.7 L436.7 326.7 L437.7 326.7 L438.7 326.3 L439.7 326.2 L440.7 326.3 L441.7 326.0 L442.7 326.0 L443.7 326.1 L444.7 325.8 L445.7 325.9 L446.7 326.0 L447.7 325.5 L448.7 325.8 L449.7 325.5 L450.7 325.8 L451.7 325.8 L452.7 325.6 L453.7 325.7 L454.7 325.7 L455.7 325.8 L456.7 325.6 L457.7 325.3 L458.7 325.8 L459.7 325.8 L460.7 325.6 L461.7 325.3 L462.7 325.2 L463.7 325.3 L464.7 325.2 L465.7 325.4 L466.7 324.8 L467.7 324.6 L468.7 324.7 L469.7 325.2 L470.7 324.8 L471.7 324.4 L472.7 324.8 L473.7 324.6 L474.7 324.3 L475.7 324.5 L476.7 324.3 L477.7 324.6 L478.7 324.9 L479.7 324.5 L480.7 324.5 L481.7 324.4 L482.7 324.7 L483.7 324.6 L484.7 324.2 L485.7 324.3 L486.7 324.1 L487.7 324.2 L488.7 324.3 L489.7 324.5 L490.7 324.3 L491.7 324.1 L492.7 324.4 L493.7 324.0 L494.7 323.6 L495.7 323.5 L496.7 323.9 L497.7 323.7 L498.7 323.9 L499.7 323.8 L500.7 323.4 L501.7 323.2 L502.7 323.4 L503.7 323.4 L504.7 323.4 L505.7 323.2 L506.7 323.5 L507.7 323.3 L508.7 323.5 L509.7 323.5 L510.7 324.1 L511.7 323.7 L512.7 323.4 L513.7 323.6 L514.7 323.9 L515.7 323.6 L516.7 323.5 L517.7 323.0 L518.7 323.0 L519.7 323.2 L520.7 323.1 L521.7 322.8 L522.7 322.7 L523.7 323.1 L524.7 322.7 L525.7 322.7 L526.7 322.7 L527.7 322.8 L528.7 322.9 L529.7 323.1 L530.7 323.1 L531.7 323.0 L532.7 322.6 L533.7 323.0 L534.7 322.7 L535.7 322.6 L536.7 322.0 L537.7 322.2 L538.7 321.8 L539.7 322.2 L540.7 321.9 L541.7 322.1 L542.7 322.4 L543.7 322.1 L544.7 322.5 L545.7 321.8 L546.7 321.8 L547.7 321.6 L548.7 321.9 L549.7 321.7 L550.7 321.9 L551.7 322.0 L552.7 321.8 L553.7 321.6 L554.7 321.9 L555.7 322.1 L556.7 321.8 L557.7 321.6 L558.7 321.5 L559.7 321.7 L560.7 321.2 L561.7 322.0 L562.7 321.9 L563.7 321.6 L564.7 321.5 L565.7 321.4 L566.7 321.6 L567.7 321.0 L568.7 321.1 L569.7 321.1 L570.7 321.4 L571.7 321.1 L572.7 320.9 L573.7 320.8 L574.7 320.9 L575.7 320.7 L576.7 320.6 L577.7 320.6 L578.7 320.5 L579.7 320.4 L580.7 320.4 L581.7 320.2 L582.7 320.3 L583.7 320.0 L584.7 320.1 L585.7 320.4 L586.7 319.9 L587.7 319.9 L588.7 319.5 L589.7 319.5 L590.7 319.6 L591.7 319.8 L592.7 319.4 L593.7 319.0 L594.7 319.3 L595.7 319.5 L596.7 319.2 L597.7 318.9 L598.7 318.5 L599.7 318.9 L600.7 318.3 L601.7 318.8 L602.7 318.5 L603.7 318.5 L604.7 318.9 L605.7 319.2 L606.7 319.2 L607.7 318.6 L608.7 318.2 L609.7 318.1 L610.7 317.9 L611.7 318.5 L612.7 318.7 L613.7 318.4 L614.7 318.2 L615.7 318.4 L616.7 318.4 L617.7 318.1 L618.7 318.2 L619.7 318.2 L620.7 318.0 L621.7 318.1 L622.7 317.4 L623.7 317.4 L624.7 317.5 L625.7 317.2 L626.7 317.1 L627.7 317.3 L628.7 317.3 L629.7 317.2 L630.7 317.1 L631.7 317.1 L632.7 316.9 L633.7 316.7 L634.7 316.3 L635.7 316.5 L636.7 316.6 L637.7 316.6 L638.7 316.2 L639.7 316.5 L640.7 315.9 L641.7 315.7 L642.7 315.3 L643.7 315.6 L644.7 315.8 L645.7 315.4 L646.7 315.3 L647.7 315.2 L648.7 315.5 L649.7 315.3 L650.7 315.0 L651.7 315.0 L652.7 315.1 L653.7 314.7 L654.7 314.6 L655.7 314.6 L656.7 314.6 L657.7 314.5 L658.7 314.4 L659.7 313.8 L660.7 314.0 L661.7 313.6 L662.7 313.7 L663.7 313.6 L664.7 313.7 L665.7 313.4 L666.7 314.0 L667.7 313.7 L668.7 313.1 L669.7 312.7 L670.7 312.6 L671.7 312.6 L672.7 312.6 L673.7 312.4 L674.7 312.1 L675.7 312.4 L676.7 312.2 L677.7 312.4 L678.7 312.2 L679.7 311.7 L680.7 311.5 L681.7 311.4 L682.7 311.5 L683.7 311.6 L684.7 310.9 L685.7 311.2 L686.7 310.5 L687.7 310.5 L688.7 310.4 L689.7 310.5 L690.7 310.2 L691.7 309.9 L692.7 309.6 L693.7 310.4 L694.7 310.0 L695.7 309.6 L696.7 309.2 L697.7 309.1 L698.7 309.0 L699.7 308.7 L700.7 308.7 L701.7 308.5 L702.7 308.3 L703.7 307.8 L704.7 307.7 L705.7 307.7 L706.7 307.7 L707.7 307.3 L708.7 307.3 L709.7 306.9 L710.7 307.0 L711.7 306.5 L712.7 306.3 L713.7 305.8 L714.7 305.7 L715.7 305.2 L716.7 304.8 L718.0 301.6" stroke="#a01fd2" stroke-width="1.3"/>
<path d="M103.0 13.3 L121.0 13.3 L122.6 13.2 L124.4 15.2 L124.8 17.2 L125.0 19.2 L125.2 21.2 L125.3 23.2 L125.4 25.2 L125.5 27.2 L125.6 29.2 L125.7 31.2 L125.7 33.2 L125.8 35.2 L125.9 37.2 L125.9 39.2 L126.0 41.2 L126.1 43.2 L126.2 45.2 L126.3 47.2 L126.4 49.2 L126.5 51.2 L126.6 53.2 L126.7 55.2 L126.8 57.2 L126.8 59.2 L126.9 61.2 L127.0 63.2 L127.1 65.2 L127.1 67.2 L127.2 69.2 L127.2 71.2 L127.3 73.2 L127.3 75.2 L127.3 77.2 L127.3 79.2 L127.4 81.2 L127.4 83.2 L127.4 85.2 L127.4 87.2 L127.4 89.2 L127.4 91.2 L127.5 93.2 L127.5 95.2 L127.5 97.2 L127.5 99.2 L127.5 101.2 L127.5 103.2 L127.5 105.2 L127.5 107.2 L127.5 109.2 L127.5 111.2 L127.5 113.2 L127.5 115.2 L127.5 117.2 L127.5 119.2 L127.5 121.2 L127.5 123.2 L127.5 125.2 L127.5 127.2 L127.5 129.2 L127.5 131.2 L127.5 133.2 L127.5 135.2 L127.5 137.2 L127.5 139.2 L127.5 141.2 L127.5 143.2 L127.5 145.2 L127.5 147.2 L127.5 149.2 L127.5 151.2 L127.6 153.2 L127.6 155.2 L127.6 157.2 L127.6 159.2 L127.6 161.2 L127.6 163.2 L127.6 165.2 L127.6 167.2 L127.6 169.2 L127.6 171.2 L127.6 173.2 L127.6 175.2 L127.6 177.2 L127.6 179.2 L127.6 181.2 L127.6 183.2 L127.6 185.2 L127.6 187.2 L127.6 189.2 L127.6 191.2 L127.6 193.2 L127.6 195.2 L127.6 197.2 L127.6 199.2 L127.6 201.2 L127.6 203.2 L127.6 205.2 L127.6 207.2 L127.6 209.2 L127.6 211.2 L127.6 213.2 L127.6 215.2 L127.6 217.2 L127.6 219.2 L127.6 221.2 L127.6 223.2 L127.6 225.2 L127.6 227.2 L127.6 229.2 L127.6 231.2 L127.7 233.2 L127.7 235.2 L127.7 237.2 L127.7 239.2 L127.7 241.2 L127.7 243.2 L127.7 245.2 L127.7 247.2 L127.7 249.2 L127.7 251.2 L127.8 253.2 L127.8 255.2 L127.8 257.2 L127.8 259.2 L127.8 261.2 L127.8 263.2 L127.8 265.2 L127.9 267.2 L127.9 269.2 L127.9 271.2 L127.9 273.2 L127.9 275.2 L127.9 277.2 L127.9 279.2 L128.0 281.2 L128.0 283.2 L128.0 285.2 L128.0 287.2 L128.0 289.2 L128.1 291.2 L128.1 293.2 L128.1 295.2 L128.1 297.2 L128.1 299.2 L128.1 301.2 L128.2 303.2 L128.2 305.2 L128.2 307.2 L128.2 309.2 L128.2 311.2 L128.3 313.2 L128.3 315.2 L128.3 317.2 L128.3 319.2 L128.4 321.2 L128.4 323.2 L128.4 325.2 L128.4 327.2 L128.4 329.2 L128.5 331.2 L128.5 333.2 L129.5 329.8 L130.5 327.0 L131.5 325.1 L132.5 323.7 L133.5 322.3 L134.5 321.6 L135.5 320.8 L136.5 320.3 L137.5 320.1 L138.5 319.2 L139.5 319.3 L140.5 318.3 L141.5 318.4 L142.5 318.2 L143.5 317.9 L144.5 317.6 L145.5 317.5 L146.5 317.2 L147.5 317.6 L148.5 317.2 L149.5 317.1 L150.5 316.7 L151.5 316.4 L152.5 316.1 L153.5 316.3 L154.5 316.3 L155.5 316.0 L156.5 315.9 L157.5 315.9 L158.5 315.8 L159.5 315.7 L160.5 315.5 L161.5 315.7 L162.5 315.5 L163.5 315.6 L164.5 315.4 L165.5 315.5 L166.5 315.2 L167.5 315.4 L168.5 315.5 L169.5 315.9 L170.5 315.7 L171.5 315.4 L172.5 315.4 L173.5 315.7 L174.5 315.8 L175.5 315.7 L176.5 315.6 L177.5 315.6 L178.5 315.6 L179.5 315.7 L180.5 315.4 L181.5 315.3 L182.5 315.8 L183.5 315.9 L184.5 315.2 L185.5 315.2 L186.5 315.1 L187.5 315.0 L188.5 314.5 L189.5 314.8 L190.5 314.9 L191.5 314.8 L192.5 314.6 L193.5 315.0 L194.5 315.2 L195.5 315.1 L196.5 314.9 L197.5 315.6 L198.5 315.1 L199.5 314.7 L200.5 314.6 L201.5 314.0 L202.5 314.3 L203.5 314.7 L204.5 315.5 L205.5 315.2 L206.5 315.2 L207.5 315.1 L208.5 314.7 L209.5 314.6 L210.5 314.8 L211.5 315.0 L212.5 315.3 L213.5 315.5 L214.5 315.2 L215.5 315.2 L216.5 314.9 L217.5 315.0 L218.5 315.1 L219.5 315.3 L220.5 315.3 L221.5 315.5 L222.5 315.6 L223.5 315.2 L224.5 315.0 L225.5 315.1 L226.5 315.0 L227.5 315.0 L228.5 314.5 L229.5 314.9 L230.5 315.0 L231.5 315.0 L232.5 314.7 L233.5 314.9 L234.5 315.2 L235.5 314.9 L236.5 314.8 L237.5 315.4 L238.5 315.4 L239.5 315.0 L240.5 315.1 L241.5 314.7 L242.5 314.9 L243.5 315.3 L244.5 314.9 L245.5 314.4 L246.5 314.6 L247.5 314.5 L248.5 314.4 L249.5 314.7 L250.5 315.0 L251.5 314.9 L252.5 314.8 L253.5 314.8 L254.5 314.6 L255.5 314.5 L256.5 314.3 L257.5 314.7 L258.5 314.5 L259.5 314.6 L260.5 314.9 L261.5 315.0 L262.5 314.8 L263.5 314.8 L264.5 315.0 L265.5 315.1 L266.5 315.4 L267.5 315.2 L268.5 315.0 L269.5 314.4 L270.5 314.7 L271.5 314.6 L272.5 314.7 L273.5 314.6 L274.5 314.6 L275.5 314.6 L276.5 314.7 L277.5 314.8 L278.5 314.6 L279.5 314.4 L280.5 314.2 L281.5 314.5 L282.5 314.2 L283.5 314.6 L284.5 314.4 L285.5 314.5 L286.5 314.8 L287.5 314.5 L288.5 314.4 L289.5 314.4 L290.5 314.4 L291.5 314.7 L292.5 314.4 L293.5 314.4 L294.5 314.6 L295.5 314.3 L296.5 314.1 L297.5 314.1 L298.5 314.5 L299.5 314.3 L300.5 314.4 L301.5 314.3 L302.5 314.4 L303.5 314.1 L304.5 314.5 L305.5 314.3 L306.5 314.5 L307.5 314.4 L308.5 314.5 L309.5 314.4 L310.5 314.6 L311.5 314.3 L312.5 314.5 L313.5 314.6 L314.5 314.9 L315.5 314.9 L316.5 314.8 L317.5 314.9 L318.5 314.5 L319.5 314.9 L320.5 314.3 L321.5 314.2 L322.5 314.3 L323.5 314.1 L324.5 314.6 L325.5 314.4 L326.5 314.3 L327.5 314.5 L328.5 314.6 L329.5 314.6 L330.5 314.8 L331.5 314.8 L332.5 314.9 L333.5 314.5 L334.5 314.3 L335.5 314.5 L336.5 314.8 L337.5 314.4 L338.5 314.6 L339.5 314.6 L340.5 314.5 L341.5 314.6 L342.5 314.5 L343.5 314.3 L344.5 314.3 L345.5 314.0 L346.5 314.0 L347.5 313.9 L348.5 314.2 L349.5 314.0 L350.5 314.0 L351.5 314.0 L352.5 314.4 L353.5 314.2 L354.5 314.1 L355.5 314.0 L356.5 314.1 L357.5 314.5 L358.5 314.3 L359.5 314.2 L360.5 314.0 L361.5 314.4 L362.5 314.7 L363.5 314.7 L364.5 314.7 L365.5 314.5 L366.5 314.3 L367.5 314.4 L368.5 314.4 L369.5 313.7 L370.5 314.1 L371.5 313.5 L372.5 313.8 L373.5 313.9 L374.5 314.0 L375.5 314.2 L376.5 314.0 L377.5 314.7 L378.5 314.3 L379.5 314.6 L380.5 314.5 L381.5 314.5 L382.5 314.2 L383.5 314.0 L384.5 314.4 L385.5 314.1 L386.5 314.1 L387.5 314.2 L388.5 313.9 L389.5 313.8 L390.5 313.8 L391.5 313.9 L392.5 314.5 L393.5 314.6 L394.5 314.7 L395.5 314.5 L396.5 314.9 L397.5 314.8 L398.5 314.6 L399.5 314.3 L400.5 314.5 L401.5 314.1 L402.5 314.5 L403.5 314.4 L404.5 314.2 L405.5 314.2 L406.5 314.1 L407.5 314.3 L408.5 314.4 L409.5 314.6 L410.5 314.7 L411.5 314.2 L412.5 314.4 L413.5 314.5 L414.5 314.5 L415.5 314.3 L416.5 314.1 L417.5 314.5 L418.5 314.4 L419.5 314.5 L420.5 313.9 L421.5 313.9 L422.5 313.8 L423.5 314.1 L424.5 313.9 L425.5 314.2 L426.5 314.3 L427.5 314.3 L428.5 314.4 L429.5 313.9 L430.5 314.4 L431.5 314.8 L432.5 314.4 L433.5 314.6 L434.5 314.3 L435.5 314.0 L436.5 313.9 L437.5 314.1 L438.5 314.2 L439.5 314.2 L440.5 314.2 L441.5 314.1 L442.5 313.7 L443.5 313.7 L444.5 313.8 L445.5 314.0 L446.5 314.2 L447.5 314.2 L448.5 313.7 L449.5 313.7 L450.5 314.2 L451.5 314.3 L452.5 314.4 L453.5 314.2 L454.5 314.3 L455.5 314.0 L456.5 314.0 L457.5 314.3 L458.5 313.9 L459.5 314.0 L460.5 314.0 L461.5 314.1 L462.5 314.0 L463.5 313.9 L464.5 314.3 L465.5 314.5 L466.5 313.9 L467.5 314.2 L468.5 314.2 L469.5 314.3 L470.5 313.9 L471.5 313.7 L472.5 314.2 L473.5 314.0 L474.5 314.1 L475.5 314.4 L476.5 314.4 L477.5 314.2 L478.5 314.0 L479.5 313.9 L480.5 314.0 L481.5 313.3 L482.5 313.6 L483.5 313.5 L484.5 313.8 L485.5 313.6 L486.5 313.7 L487.5 313.8 L488.5 313.9 L489.5 314.5 L490.5 314.5 L491.5 314.1 L492.5 314.1 L493.5 314.1 L494.5 314.5 L495.5 314.3 L496.5 314.1 L497.5 313.9 L498.5 313.8 L499.5 314.1 L500.5 313.8 L501.5 313.8 L502.5 314.2 L503.5 314.1 L504.5 314.2 L505.5 314.0 L506.5 313.5 L507.5 313.7 L508.5 313.5 L509.5 313.6 L510.5 313.4 L511.5 313.3 L512.5 313.3 L513.5 313.5 L514.5 313.6 L515.5 313.7 L516.5 314.0 L517.5 314.0 L518.5 313.8 L519.5 313.5 L520.5 313.6 L521.5 313.5 L522.5 313.3 L523.5 313.5 L524.5 313.7 L525.5 313.5 L526.5 313.4 L527.5 313.1 L528.5 313.8 L529.5 313.8 L530.5 313.5 L531.5 313.5 L532.5 313.1 L533.5 312.9 L534.5 313.5 L535.5 313.0 L536.5 313.7 L537.5 312.8 L538.5 312.9 L539.5 313.0 L540.5 313.4 L541.5 313.1 L542.5 313.2 L543.5 312.7 L544.5 313.3 L545.5 313.0 L546.5 313.2 L547.5 313.2 L548.5 313.0 L549.5 312.9 L550.5 312.8 L551.5 312.5 L552.5 312.8 L553.5 312.8 L554.5 312.8 L555.5 312.6 L556.5 312.5 L557.5 312.6 L558.5 313.0 L559.5 313.0 L560.5 313.0 L561.5 313.0 L562.5 313.1 L563.5 312.6 L564.5 312.9 L565.5 312.7 L566.5 312.7 L567.5 312.4 L568.5 312.7 L569.5 312.7 L570.5 312.9 L571.5 312.6 L572.5 312.2 L573.5 312.4 L574.5 312.3 L575.5 312.3 L576.5 312.6 L577.5 312.5 L578.5 312.2 L579.5 312.2 L580.5 312.2 L581.5 312.4 L582.5 312.0 L583.5 311.9 L584.5 311.5 L585.5 311.6 L586.5 311.3 L587.5 311.3 L588.5 310.9 L589.5 311.2 L590.5 311.5 L591.5 311.3 L592.5 311.3 L593.5 311.4 L594.5 311.4 L595.5 311.7 L596.5 311.4 L597.5 311.5 L598.5 311.8 L599.5 311.5 L600.5 311.0 L601.5 310.2 L602.5 310.8 L603.5 311.4 L604.5 310.9 L605.5 311.2 L606.5 310.8 L607.5 311.2 L608.5 311.1 L609.5 310.8 L610.5 311.0 L611.5 311.3 L612.5 311.2 L613.5 310.8 L614.5 310.9 L615.5 310.6 L616.5 310.7 L617.5 310.7 L618.5 310.5 L619.5 310.5 L620.5 310.2 L621.5 309.8 L622.5 310.2 L623.5 310.3 L624.5 310.3 L625.5 310.4 L626.5 310.5 L627.5 310.2 L628.5 310.4 L629.5 310.4 L630.5 310.5 L631.5 310.3 L632.5 310.1 L633.5 310.1 L634.5 309.7 L635.5 310.4 L636.5 310.2 L637.5 310.1 L638.5 310.1 L639.5 309.8 L640.5 309.5 L641.5 309.5 L642.5 309.3 L643.5 309.6 L644.5 309.5 L645.5 309.6 L646.5 309.1 L647.5 309.2 L648.5 309.2 L649.5 308.9 L650.5 308.7 L651.5 308.4 L652.5 308.5 L653.5 308.0 L654.5 308.3 L655.5 308.2 L656.5 308.7 L657.5 308.9 L658.5 308.6 L659.5 308.6 L660.5 308.2 L661.5 308.3 L662.5 307.8 L663.5 308.2 L664.5 308.2 L665.5 307.9 L666.5 308.1 L667.5 308.3 L668.5 308.2 L669.5 308.1 L670.5 307.7 L671.5 307.7 L672.5 307.6 L673.5 307.6 L674.5 307.7 L675.5 307.4 L676.5 307.2 L677.5 306.8 L678.5 307.0 L679.5 306.6 L680.5 306.7 L681.5 307.2 L682.5 306.5 L683.5 306.6 L684.5 306.4 L685.5 306.7 L686.5 306.3 L687.5 306.6 L688.5 306.3 L689.5 306.3 L690.5 306.7 L691.5 306.5 L692.5 306.1 L693.5 305.8 L694.5 305.8 L695.5 305.9 L696.5 306.0 L697.5 305.8 L698.5 305.4 L699.5 305.2 L700.5 305.2 L701.5 305.3 L702.5 305.8 L703.5 305.4 L704.5 304.8 L705.5 304.7 L706.5 304.1 L707.5 304.4 L708.5 304.4 L709.5 304.2 L710.5 304.4 L711.5 304.7 L712.5 304.2 L713.5 303.8 L714.5 303.9 L715.5 303.8 L716.5 303.7 L718.0 301.6" stroke="#ff3cff" stroke-width="1.3"/>
<path d="M103.0 13.4 L123.2 13.4 L124.6 13.7 L126.4 15.7 L126.8 17.7 L127.0 19.7 L127.1 21.7 L127.2 23.7 L127.3 25.7 L127.3 27.7 L127.4 29.7 L127.4 31.7 L127.5 33.7 L127.5 35.7 L127.6 37.7 L127.7 39.7 L127.7 41.7 L127.8 43.7 L127.9 45.7 L128.0 47.7 L128.1 49.7 L128.2 51.7 L128.2 53.7 L128.3 55.7 L128.4 57.7 L128.5 59.7 L128.6 61.7 L128.6 63.7 L128.7 65.7 L128.8 67.7 L128.9 69.7 L128.9 71.7 L129.0 73.7 L129.0 75.7 L129.1 77.7 L129.1 79.7 L129.1 81.7 L129.2 83.7 L129.2 85.7 L129.3 87.7 L129.3 89.7 L129.3 91.7 L129.4 93.7 L129.4 95.7 L129.4 97.7 L129.4 99.7 L129.5 101.7 L129.5 103.7 L129.5 105.7 L129.5 107.7 L129.5 109.7 L129.6 111.7 L129.6 113.7 L129.6 115.7 L129.6 117.7 L129.6 119.7 L129.6 121.7 L129.6 123.7 L129.6 125.7 L129.6 127.7 L129.7 129.7 L129.7 131.7 L129.7 133.7 L129.7 135.7 L129.7 137.7 L129.7 139.7 L129.7 141.7 L129.7 143.7 L129.7 145.7 L129.7 147.7 L129.7 149.7 L129.7 151.7 L129.7 153.7 L129.8 155.7 L129.8 157.7 L129.8 159.7 L129.8 161.7 L129.8 163.7 L129.8 165.7 L129.8 167.7 L129.8 169.7 L129.8 171.7 L129.8 173.7 L129.8 175.7 L129.8 177.7 L129.8 179.7 L129.8 181.7 L129.8 183.7 L129.9 185.7 L129.9 187.7 L129.9 189.7 L129.9 191.7 L129.9 193.7 L129.9 195.7 L129.9 197.7 L129.9 199.7 L129.9 201.7 L129.9 203.7 L129.9 205.7 L130.0 207.7 L130.0 209.7 L130.0 211.7 L130.0 213.7 L130.0 215.7 L130.0 217.7 L130.0 219.7 L130.1 221.7 L130.1 223.7 L130.1 225.7 L130.1 227.7 L130.1 229.7 L130.1 231.7 L130.2 233.7 L130.2 235.7 L130.2 237.7 L130.2 239.7 L130.3 241.7 L130.3 243.7 L130.3 245.7 L130.3 247.7 L130.3 249.7 L130.4 251.7 L130.4 253.7 L130.4 255.7 L130.5 257.7 L130.5 259.7 L130.5 261.7 L130.5 263.7 L130.6 265.7 L130.6 267.7 L130.6 269.7 L130.7 271.7 L130.7 273.7 L130.7 275.7 L130.8 277.7 L130.8 279.7 L130.8 281.7 L130.9 283.7 L130.9 285.7 L131.0 287.7 L131.0 289.7 L131.0 291.7 L131.1 293.7 L131.1 295.7 L131.2 297.7 L131.3 299.7 L131.3 301.7 L131.4 303.7 L131.4 305.7 L131.5 307.7 L131.6 309.7 L131.7 311.7 L132.7 309.8 L133.7 308.1 L134.7 306.6 L135.7 305.5 L136.7 304.8 L137.7 304.5 L138.7 304.1 L139.7 303.9 L140.7 303.5 L141.7 303.1 L142.7 303.3 L143.7 302.8 L144.7 302.8 L145.7 302.4 L146.7 302.4 L147.7 301.6 L148.7 301.7 L149.7 302.0 L150.7 302.1 L151.7 302.0 L152.7 301.9 L153.7 302.1 L154.7 301.9 L155.7 301.9 L156.7 302.1 L157.7 302.2 L158.7 301.8 L159.7 301.7 L160.7 301.8 L161.7 301.6 L162.7 301.6 L163.7 301.8 L164.7 301.6 L165.7 301.6 L166.7 301.7 L167.7 301.6 L168.7 301.8 L169.7 301.5 L170.7 301.7 L171.7 301.8 L172.7 301.6 L173.7 301.4 L174.7 301.3 L175.7 301.6 L176.7 301.5 L177.7 301.5 L178.7 301.5 L179.7 301.4 L180.7 301.7 L181.7 301.5 L182.7 301.8 L183.7 301.6 L184.7 301.4 L185.7 301.4 L186.7 301.4 L187.7 301.7 L188.7 301.7 L189.7 301.6 L190.7 301.7 L191.7 301.9 L192.7 301.4 L193.7 301.5 L194.7 301.6 L195.7 301.7 L196.7 301.6 L197.7 301.8 L198.7 301.3 L199.7 301.5 L200.7 301.4 L201.7 301.3 L202.7 301.3 L203.7 301.2 L204.7 301.4 L205.7 301.6 L206.7 301.2 L207.7 301.3 L208.7 301.1 L209.7 301.5 L210.7 301.2 L211.7 301.2 L212.7 301.4 L213.7 301.3 L214.7 301.2 L215.7 301.4 L216.7 301.1 L217.7 301.4 L218.7 301.2 L219.7 301.6 L220.7 301.3 L221.7 301.2 L222.7 301.0 L223.7 301.1 L224.7 301.2 L225.7 301.6 L226.7 301.4 L227.7 301.4 L228.7 301.2 L229.7 301.3 L230.7 301.3 L231.7 301.2 L232.7 301.6 L233.7 301.6 L234.7 301.5 L235.7 301.4 L236.7 301.5 L237.7 301.7 L238.7 301.7 L239.7 301.6 L240.7 301.5 L241.7 301.6 L242.7 301.7 L243.7 301.6 L244.7 301.3 L245.7 301.1 L246.7 301.1 L247.7 300.8 L248.7 301.0 L249.7 301.2 L250.7 301.1 L251.7 301.1 L252.7 301.0 L253.7 301.2 L254.7 301.2 L255.7 301.3 L256.7 301.3 L257.7 301.1 L258.7 301.2 L259.7 301.6 L260.7 301.7 L261.7 301.5 L262.7 301.3 L263.7 301.3 L264.7 301.3 L265.7 301.1 L266.7 301.5 L267.7 301.5 L268.7 301.6 L269.7 301.6 L270.7 301.4 L271.7 301.3 L272.7 301.3 L273.7 301.2 L274.7 301.4 L275.7 301.3 L276.7 301.2 L277.7 301.2 L278.7 301.1 L279.7 301.0 L280.7 301.4 L281.7 301.6 L282.7 301.2 L283.7 301.4 L284.7 301.2 L285.7 301.1 L286.7 301.2 L287.7 301.3 L288.7 301.2 L289.7 301.0 L290.7 301.4 L291.7 301.9 L292.7 301.7 L293.7 301.4 L294.7 301.4 L295.7 302.0 L296.7 301.7 L297.7 301.8 L298.7 301.7 L299.7 301.6 L300.7 301.6 L301.7 301.3 L302.7 301.3 L303.7 301.1 L304.7 301.4 L305.7 301.1 L306.7 301.3 L307.7 301.2 L308.7 301.5 L309.7 301.2 L310.7 301.4 L311.7 301.3 L312.7 301.8 L313.7 301.9 L314.7 301.4 L315.7 301.5 L316.7 301.9 L317.7 301.8 L318.7 302.0 L319.7 301.4 L320.7 301.3 L321.7 301.3 L322.7 301.3 L323.7 301.6 L324.7 301.3 L325.7 301.1 L326.7 301.6 L327.7 301.5 L328.7 301.3 L329.7 301.4 L330.7 301.3 L331.7 301.5 L332.7 301.6 L333.7 301.5 L334.7 301.4 L335.7 301.3 L336.7 301.5 L337.7 301.6 L338.7 301.5 L339.7 301.3 L340.7 301.2 L341.7 301.6 L342.7 301.8 L343.7 301.8 L344.7 301.3 L345.7 301.3 L346.7 301.2 L347.7 301.1 L348.7 300.8 L349.7 301.2 L350.7 300.8 L351.7 301.0 L352.7 301.0 L353.7 300.8 L354.7 300.7 L355.7 300.8 L356.7 301.3 L357.7 301.3 L358.7 301.5 L359.7 301.4 L360.7 301.2 L361.7 301.4 L362.7 301.5 L363.7 301.7 L364.7 301.5 L365.7 301.5 L366.7 301.6 L367.7 301.7 L368.7 301.7 L369.7 301.6 L370.7 301.4 L371.7 301.2 L372.7 301.5 L373.7 301.6 L374.7 301.2 L375.7 301.2 L376.7 301.7 L377.7 301.3 L378.7 301.6 L379.7 301.5 L380.7 301.7 L381.7 301.5 L382.7 301.5 L383.7 301.7 L384.7 301.5 L385.7 301.7 L386.7 301.6 L387.7 301.6 L388.7 301.2 L389.7 301.1 L390.7 300.8 L391.7 300.9 L392.7 301.1 L393.7 301.0 L394.7 300.9 L395.7 300.9 L396.7 301.1 L397.7 301.0 L398.7 300.9 L399.7 300.6 L400.7 300.9 L401.7 300.7 L402.7 301.1 L403.7 301.1 L404.7 301.7 L405.7 301.5 L406.7 301.9 L407.7 301.5 L408.7 301.5 L409.7 301.1 L410.7 301.3 L411.7 301.7 L412.7 301.6 L413.7 301.7 L414.7 301.1 L415.7 301.2 L416.7 301.1 L417.7 301.6 L418.7 301.6 L419.7 301.6 L420.7 301.4 L421.7 301.5 L422.7 301.7 L423.7 301.6 L424.7 301.5 L425.7 301.2 L426.7 301.5 L427.7 301.2 L428.7 301.2 L429.7 301.2 L430.7 301.7 L431.7 301.6 L432.7 301.3 L433.7 301.3 L434.7 301.2 L435.7 301.6 L436.7 301.4 L437.7 301.1 L438.7 301.0 L439.7 301.3 L440.7 301.3 L441.7 301.5 L442.7 300.9 L443.7 301.4 L444.7 301.7 L445.7 301.6 L446.7 301.9 L447.7 301.4 L448.7 301.3 L449.7 301.1 L450.7 301.4 L451.7 301.5 L452.7 301.7 L453.7 301.3 L454.7 301.4 L455.7 301.3 L456.7 301.6 L457.7 301.7 L458.7 301.7 L459.7 301.7 L460.7 301.4 L461.7 301.3 L462.7 301.0 L463.7 301.5 L464.7 301.3 L465.7 301.5 L466.7 301.3 L467.7 301.0 L468.7 301.2 L469.7 301.5 L470.7 301.7 L471.7 301.6 L472.7 301.4 L473.7 301.5 L474.7 301.3 L475.7 301.5 L476.7 301.5 L477.7 301.8 L478.7 301.6 L479.7 301.5 L480.7 301.3 L481.7 301.0 L482.7 301.3 L483.7 301.2 L484.7 301.2 L485.7 301.4 L486.7 301.5 L487.7 301.4 L488.7 301.5 L489.7 301.2 L490.7 301.4 L491.7 301.0 L492.7 301.1 L493.7 300.7 L494.7 301.3 L495.7 301.7 L496.7 301.4 L497.7 301.2 L498.7 300.9 L499.7 300.8 L500.7 300.9 L501.7 301.2 L502.7 301.0 L503.7 301.3 L504.7 301.7 L505.7 301.6 L506.7 301.2 L507.7 301.2 L508.7 301.2 L509.7 301.3 L510.7 301.1 L511.7 301.6 L512.7 301.0 L513.7 301.5 L514.7 301.2 L515.7 301.4 L516.7 301.1 L517.7 301.1 L518.7 301.1 L519.7 301.1 L520.7 301.1 L521.7 301.4 L522.7 301.2 L523.7 301.1 L524.7 301.0 L525.7 301.0 L526.7 301.0 L527.7 300.8 L528.7 301.1 L529.7 301.4 L530.7 301.3 L531.7 301.2 L532.7 301.4 L533.7 301.6 L534.7 301.5 L535.7 301.5 L536.7 301.6 L537.7 301.5 L538.7 301.1 L539.7 301.1 L540.7 301.0 L541.7 301.1 L542.7 301.3 L543.7 301.1 L544.7 301.5 L545.7 301.4 L546.7 301.4 L547.7 301.8 L548.7 301.9 L549.7 301.5 L550.7 301.4 L551.7 301.8 L552.7 301.9 L553.7 301.6 L554.7 301.4 L555.7 301.5 L556.7 301.3 L557.7 301.3 L558.7 301.3 L559.7 301.1 L560.7 301.4 L561.7 301.3 L562.7 301.6 L563.7 301.2 L564.7 301.7 L565.7 301.2 L566.7 301.4 L567.7 301.4 L568.7 301.3 L569.7 301.5 L570.7 301.4 L571.7 301.5 L572.7 301.6 L573.7 301.6 L574.7 301.5 L575.7 301.5 L576.7 301.3 L577.7 301.4 L578.7 301.3 L579.7 301.1 L580.7 301.0 L581.7 301.3 L582.7 301.2 L583.7 301.3 L584.7 300.9 L585.7 301.5 L586.7 301.4 L587.7 301.5 L588.7 301.4 L589.7 301.3 L590.7 301.2 L591.7 301.5 L592.7 301.0 L593.7 301.8 L594.7 301.6 L595.7 301.4 L596.7 301.4 L597.7 301.4 L598.7 301.2 L599.7 301.3 L600.7 301.5 L601.7 301.5 L602.7 301.4 L603.7 301.7 L604.7 301.7 L605.7 301.8 L606.7 301.5 L607.7 301.7 L608.7 301.4 L609.7 301.4 L610.7 301.2 L611.7 301.4 L612.7 301.4 L613.7 301.4 L614.7 301.3 L615.7 301.6 L616.7 301.1 L617.7 301.5 L618.7 301.1 L619.7 301.6 L620.7 301.3 L621.7 301.2 L622.7 301.4 L623.7 301.1 L624.7 301.3 L625.7 301.2 L626.7 301.3 L627.7 301.0 L628.7 301.2 L629.7 301.1 L630.7 301.1 L631.7 301.1 L632.7 301.0 L633.7 301.4 L634.7 301.3 L635.7 301.4 L636.7 301.1 L637.7 301.1 L638.7 301.4 L639.7 301.2 L640.7 301.1 L641.7 301.2 L642.7 301.5 L643.7 301.3 L644.7 301.5 L645.7 301.4 L646.7 301.7 L647.7 301.4 L648.7 301.6 L649.7 301.6 L650.7 301.6 L651.7 301.5 L652.7 301.1 L653.7 301.1 L654.7 301.2 L655.7 301.1 L656.7 301.3 L657.7 301.1 L658.7 301.2 L659.7 301.1 L660.7 301.5 L661.7 301.6 L662.7 301.7 L663.7 301.1 L664.7 301.2 L665.7 301.3 L666.7 301.4 L667.7 301.6 L668.7 301.7 L669.7 301.4 L670.7 301.6 L671.7 301.5 L672.7 301.4 L673.7 301.1 L674.7 301.5 L675.7 301.4 L676.7 301.3 L677.7 301.4 L678.7 301.4 L679.7 301.2 L680.7 301.3 L681.7 301.2 L682.7 301.3 L683.7 301.5 L684.7 301.5 L685.7 301.7 L686.7 301.8 L687.7 301.7 L688.7 301.9 L689.7 301.7 L690.7 301.5 L691.7 301.5 L692.7 301.2 L693.7 301.3 L694.7 301.2 L695.7 301.1 L696.7 300.9 L697.7 301.2 L698.7 300.9 L699.7 301.1 L700.7 301.1 L701.7 301.2 L702.7 301.3 L703.7 301.3 L704.7 301.0 L705.7 301.3 L706.7 301.4 L707.7 301.5 L708.7 301.3 L709.7 301.3 L710.7 301.1 L711.7 301.4 L712.7 301.6 L713.7 301.5 L714.7 301.6 L715.7 301.1 L716.7 301.4 L717.7 301.5 L718.7 301.3 L719.7 301.3 L720.7 301.4 L721.7 301.5 L722.7 301.4 L723.7 301.2 L724.7 301.2 L725.7 301.2 L726.7 301.0 L727.7 301.3 L728.7 300.7 L729.7 300.9 L730.7 301.0 L731.7 301.1 L732.7 301.2 L733.7 301.1 L734.7 301.5 L735.7 301.4 L736.7 301.9 L737.7 301.5 L738.7 301.4 L739.7 301.5 L740.7 301.5 L741.7 301.5 L742.7 301.3 L743.7 301.6 L744.7 301.6 L745.7 301.6 L746.7 301.7 L747.7 301.4 L748.7 301.2 L749.7 301.3 L750.7 301.3 L751.7 301.2 L752.7 301.0" stroke="#ff2a0e" stroke-width="2.6"/>
<path d="M132.5 47.8 L133.5 47.5 L134.5 47.6 L135.5 46.5 L136.5 45.8 L137.5 45.5 L138.5 44.5 L139.5 44.5 L140.5 44.1 L141.5 43.7 L142.5 43.0 L143.5 43.7 L144.5 42.6 L145.5 42.1 L146.5 43.2 L147.5 41.7 L148.5 42.2 L149.5 41.8 L150.5 41.7 L151.5 41.3 L152.5 41.1 L153.5 42.1 L154.5 41.2 L155.5 41.3 L156.5 41.6 L157.5 41.3 L158.5 41.6 L159.5 40.6 L160.5 40.6 L161.5 41.1 L162.5 41.3 L163.5 40.8 L164.5 40.8 L165.5 41.0 L166.5 41.3 L167.5 41.5 L168.5 41.6 L169.5 42.0 L170.5 41.1 L171.5 42.1 L172.5 42.1 L173.5 41.9 L174.5 41.3 L175.5 41.8 L176.5 41.0 L177.5 41.8 L178.5 41.5 L179.5 41.8 L180.5 41.7 L181.5 41.4 L182.5 41.6 L183.5 41.0 L184.5 41.9 L185.5 41.7 L186.5 42.0 L187.5 42.3 L188.5 42.0 L189.5 41.2 L190.5 42.1 L191.5 41.3 L192.5 41.4 L193.5 41.5 L194.5 41.9 L195.5 41.6 L196.5 41.6 L197.5 41.2 L198.5 41.3 L199.5 41.9 L200.5 41.5 L201.5 41.5 L202.5 41.3 L203.5 41.4 L204.5 42.0 L205.5 41.2 L206.5 42.1 L207.5 41.4 L208.5 41.7 L209.5 41.2 L210.5 41.3 L211.5 41.3 L212.5 41.8 L213.5 41.4 L214.5 41.1 L215.5 41.1 L216.5 41.3 L217.5 41.2 L218.5 42.1 L219.5 41.4 L220.5 41.5 L221.5 41.3 L222.5 41.3 L223.5 41.0 L224.5 40.9 L225.5 40.4 L226.5 40.4 L227.5 40.2 L228.5 40.4 L229.5 40.1 L230.5 40.6 L231.5 40.4 L232.5 41.0 L233.5 41.3 L234.5 40.6 L235.5 40.7 L236.5 40.4 L237.5 40.3 L238.5 40.8 L239.5 41.0 L240.5 40.6 L241.5 40.5 L242.5 40.1 L243.5 40.4 L244.5 40.4 L245.5 41.0 L246.5 41.2 L247.5 40.8 L248.5 40.9 L249.5 40.8 L250.5 40.5 L251.5 40.4 L252.5 40.6 L253.5 40.5 L254.5 40.9 L255.5 39.8 L256.5 40.7 L257.5 40.9 L258.5 40.7 L259.5 41.3 L260.5 41.4 L261.5 41.2 L262.5 41.0 L263.5 40.8 L264.5 40.9 L265.5 41.2 L266.5 41.1 L267.5 41.1 L268.5 41.7 L269.5 41.2 L270.5 41.5 L271.5 41.4 L272.5 40.9 L273.5 40.9 L274.5 41.2 L275.5 41.0 L276.5 40.8 L277.5 41.5 L278.5 40.8 L279.5 40.8 L280.5 40.8 L281.5 41.7 L282.5 41.0 L283.5 40.9 L284.5 40.6 L285.5 40.7 L286.5 41.2 L287.5 40.2 L288.5 40.8 L289.5 40.9 L290.5 41.0 L291.5 40.7 L292.5 41.2 L293.5 40.8 L294.5 40.7 L295.5 40.2 L296.5 40.0 L297.5 40.2 L298.5 40.6 L299.5 40.7 L300.5 40.9 L301.5 40.6 L302.5 40.9 L303.5 41.0 L304.5 40.7 L305.5 41.3 L306.5 41.9 L307.5 40.7 L308.5 41.0 L309.5 40.5 L310.5 41.0 L311.5 41.0 L312.5 40.8 L313.5 40.5 L314.5 40.8 L315.5 40.3 L316.5 40.9 L317.5 40.1 L318.5 40.7 L319.5 40.2 L320.5 40.6 L321.5 40.7 L322.5 40.5 L323.5 40.4 L324.5 40.4 L325.5 40.0 L326.5 40.5 L327.5 40.0 L328.5 40.3 L329.5 41.1 L330.5 40.7 L331.5 40.4 L332.5 40.3 L333.5 40.8 L334.5 41.0 L335.5 40.2 L336.5 40.5 L337.5 40.6 L338.5 40.7 L339.5 40.8 L340.5 40.3 L341.5 39.8 L342.5 40.1 L343.5 40.3 L344.5 40.3 L345.5 39.9 L346.5 40.9 L347.5 41.0 L348.5 40.9 L349.5 39.9 L350.5 40.3 L351.5 40.3 L352.5 40.3 L353.5 39.9 L354.5 39.5 L355.5 39.9 L356.5 40.5 L357.5 39.8 L358.5 39.8 L359.5 39.5 L360.5 40.1 L361.5 40.5 L362.5 40.8 L363.5 40.9 L364.5 40.2 L365.5 40.2 L366.5 39.7 L367.5 39.6 L368.5 39.4 L369.5 40.0 L370.5 40.2 L371.5 40.0 L372.5 40.0 L373.5 40.0 L374.5 40.5 L375.5 40.2 L376.5 40.6 L377.5 41.0 L378.5 40.6 L379.5 40.8 L380.5 40.5 L381.5 40.6 L382.5 40.3 L383.5 39.8 L384.5 40.0 L385.5 39.1 L386.5 40.3 L387.5 39.9 L388.5 40.1 L389.5 39.3 L390.5 38.7 L391.5 39.2 L392.5 39.4 L393.5 39.3 L394.5 39.1 L395.5 40.1 L396.5 39.2 L397.5 40.0 L398.5 40.3 L399.5 40.6 L400.5 39.9 L401.5 39.7 L402.5 39.0 L403.5 39.7 L404.5 39.4 L405.5 40.0 L406.5 39.4 L407.5 39.7 L408.5 39.2 L409.5 39.1 L410.5 39.4 L411.5 39.5 L412.5 39.2 L413.5 39.6 L414.5 40.4 L415.5 40.2 L416.5 40.3 L417.5 40.2 L418.5 40.0 L419.5 40.2 L420.5 39.8 L421.5 39.1 L422.5 39.4 L423.5 39.3 L424.5 39.4 L425.5 39.8 L426.5 40.3 L427.5 40.2 L428.5 39.2 L429.5 39.9 L430.5 38.7 L431.5 39.1 L432.5 38.8 L433.5 39.1 L434.5 39.7 L435.5 39.9 L436.5 40.2 L437.5 39.3 L438.5 39.3 L439.5 39.6 L440.5 40.0 L441.5 39.4 L442.5 40.0 L443.5 39.7 L444.5 40.1 L445.5 39.2 L446.5 39.9 L447.5 39.4 L448.5 39.5 L449.5 39.9 L450.5 40.3 L451.5 39.6 L452.5 39.9 L453.5 39.7 L454.5 40.1 L455.5 39.7 L456.5 39.9 L457.5 39.7 L458.5 39.3 L459.5 39.8 L460.5 39.7 L461.5 40.3 L462.5 40.1 L463.5 39.1 L464.5 39.3 L465.5 39.3 L466.5 39.3 L467.5 38.7 L468.5 39.0 L469.5 39.3 L470.5 38.4 L471.5 38.5 L472.5 38.8 L473.5 38.8 L474.5 39.4 L475.5 39.2 L476.5 38.9 L477.5 39.1 L478.5 39.6 L479.5 39.5 L480.5 39.4 L481.5 39.7 L482.5 39.4 L483.5 39.4 L484.5 40.0 L485.5 38.9 L486.5 38.4 L487.5 38.8 L488.5 39.2 L489.5 39.7 L490.5 39.8 L491.5 39.0 L492.5 39.0 L493.5 39.0 L494.5 39.9 L495.5 39.8 L496.5 39.4 L497.5 38.4 L498.5 38.3 L499.5 38.7 L500.5 38.8 L501.5 38.6 L502.5 38.5 L503.5 37.7 L504.5 37.6 L505.5 38.4 L506.5 38.8 L507.5 39.1 L508.5 39.3 L509.5 39.0 L510.5 38.8 L511.5 38.3 L512.5 39.1 L513.5 38.8 L514.5 38.1 L515.5 38.7 L516.5 38.8 L517.5 38.8 L518.5 38.2 L519.5 38.0 L520.5 37.9 L521.5 38.1 L522.5 38.6 L523.5 37.8 L524.5 38.2 L525.5 38.5 L526.5 38.7 L527.5 38.9 L528.5 38.1 L529.5 37.8 L530.5 38.1 L531.5 38.4 L532.5 39.2 L533.5 38.8 L534.5 38.9 L535.5 38.8 L536.5 38.2 L537.5 38.9 L538.5 38.8 L539.5 39.4 L540.5 38.8 L541.5 38.9 L542.5 38.2 L543.5 38.3 L544.5 38.5 L545.5 38.3 L546.5 37.9 L547.5 38.2 L548.5 38.0 L549.5 38.0 L550.5 38.1 L551.5 38.1 L552.5 37.7 L553.5 38.0 L554.5 38.6 L555.5 38.4 L556.5 38.1 L557.5 38.7 L558.5 38.5 L559.5 38.6 L560.5 38.5 L561.5 38.6 L562.5 38.3 L563.5 38.5 L564.5 38.1 L565.5 37.5 L566.5 37.5 L567.5 37.8 L568.5 38.3 L569.5 38.1 L570.5 38.6 L571.5 38.0 L572.5 38.3 L573.5 38.1 L574.5 38.7 L575.5 38.1 L576.5 38.4 L577.5 38.7 L578.5 38.4 L579.5 38.1 L580.5 37.5 L581.5 37.9 L582.5 37.4 L583.5 37.6 L584.5 37.8 L585.5 37.1 L586.5 37.9 L587.5 37.8 L588.5 37.9 L589.5 37.5 L590.5 38.2 L591.5 37.9 L592.5 38.0 L593.5 37.1 L594.5 37.4 L595.5 37.5 L596.5 37.6 L597.5 38.0 L598.5 37.1 L599.5 36.4 L600.5 37.8 L601.5 37.2 L602.5 37.3 L603.5 37.5 L604.5 37.5 L605.5 37.3 L606.5 37.8 L607.5 37.8 L608.5 37.3 L609.5 37.2 L610.5 37.4 L611.5 37.0 L612.5 37.1 L613.5 37.8 L614.5 37.5 L615.5 38.0 L616.5 38.0 L617.5 37.9 L618.5 37.8 L619.5 37.7 L620.5 37.6 L621.5 38.8 L622.5 38.1 L623.5 38.4 L624.5 37.2 L625.5 37.7 L626.5 37.4 L627.5 38.1 L628.5 38.9 L629.5 39.3 L630.5 39.0 L631.5 38.9 L632.5 38.8 L633.5 38.5 L634.5 38.2 L635.5 38.6 L636.5 38.5 L637.5 39.0 L638.5 38.8 L639.5 38.8 L640.5 38.8 L641.5 38.5 L642.5 39.4 L643.5 38.5 L644.5 38.5 L645.5 38.9 L646.5 39.0 L647.5 39.0 L648.5 39.5 L649.5 39.3 L650.5 39.3 L651.5 38.8 L652.5 39.5 L653.5 39.4 L654.5 40.3 L655.5 39.8 L656.5 39.2 L657.5 40.0 L658.5 39.6 L659.5 40.5 L660.5 40.4 L661.5 40.8 L662.5 40.3 L663.5 39.8 L664.5 40.7 L665.5 40.2 L666.5 40.6 L667.5 40.3 L668.5 40.7 L669.5 40.1 L670.5 40.6 L671.5 40.0 L672.5 40.5 L673.5 39.6 L674.5 40.4 L675.5 40.4 L676.5 40.4 L677.5 41.0 L678.5 41.5 L679.5 41.3 L680.5 41.0 L681.5 41.8 L682.5 42.2 L683.5 42.4 L684.5 42.7 L685.5 42.9 L686.5 42.3 L687.5 42.3 L688.5 42.1 L689.5 42.5 L690.5 43.1 L691.5 42.5 L692.5 42.2 L693.5 42.7 L694.5 42.5 L695.5 43.5 L696.5 43.6 L697.5 43.7 L698.5 43.5 L699.5 43.8 L700.5 44.1 L701.5 45.2 L702.5 45.1 L703.5 46.1 L704.5 46.2 L705.5 46.2 L706.5 46.8 L707.5 46.7 L708.5 47.5 L709.5 47.5 L710.5 48.5 L711.5 48.1 L712.5 48.3 L713.5 49.3 L714.5 49.3 L715.5 51.2 L716.5 51.4 L717.5 52.8 L718.5 56.7" stroke="#000000" stroke-width="1.7" stroke-dasharray="1.7 1.35"/>
<path d="M123.8 164.0 L124.8 162.4 L125.8 160.9 L126.8 159.9 L127.8 158.2 L128.8 157.2 L129.8 157.3 L130.8 155.8 L131.8 154.6 L132.8 154.0 L133.8 152.8 L134.8 151.8 L135.8 150.3 L136.8 149.6 L137.8 149.6 L138.8 148.8 L139.8 148.5 L140.8 147.6 L141.8 147.6 L142.8 147.7 L143.8 147.4 L144.8 147.3 L145.8 146.7 L146.8 146.0 L147.8 145.4 L148.8 145.7 L149.8 145.5 L150.8 145.3 L151.8 145.8 L152.8 145.2 L153.8 145.5 L154.8 145.2 L155.8 145.0 L156.8 143.9 L157.8 143.9 L158.8 143.7 L159.8 143.2 L160.8 142.6 L161.8 143.0 L162.8 141.9 L163.8 141.4 L164.8 141.0 L165.8 140.6 L166.8 140.4 L167.8 140.2 L168.8 140.3 L169.8 139.8 L170.8 141.4 L171.8 140.3 L172.8 140.4 L173.8 140.3 L174.8 140.2 L175.8 140.2 L176.8 139.0 L177.8 138.8 L178.8 138.8 L179.8 139.0 L180.8 139.4 L181.8 138.4 L182.8 137.9 L183.8 138.7 L184.8 138.4 L185.8 138.6 L186.8 138.2 L187.8 138.3 L188.8 138.0 L189.8 137.7 L190.8 137.0 L191.8 136.4 L192.8 136.5 L193.8 136.8 L194.8 136.8 L195.8 136.2 L196.8 136.0 L197.8 135.9 L198.8 135.4 L199.8 135.8 L200.8 135.2 L201.8 135.2 L202.8 134.8 L203.8 134.4 L204.8 134.5 L205.8 134.0 L206.8 134.2 L207.8 134.4 L208.8 133.5 L209.8 133.2 L210.8 133.5 L211.8 133.3 L212.8 132.8 L213.8 132.4 L214.8 133.1 L215.8 132.2 L216.8 132.0 L217.8 131.3 L218.8 130.9 L219.8 130.7 L220.8 130.4 L221.8 130.1 L222.8 130.6 L223.8 130.8 L224.8 129.8 L225.8 129.7 L226.8 129.3 L227.8 129.7 L228.8 129.4 L229.8 129.1 L230.8 128.4 L231.8 128.4 L232.8 128.6 L233.8 129.0 L234.8 128.9 L235.8 128.2 L236.8 128.0 L237.8 127.9 L238.8 128.1 L239.8 128.7 L240.8 127.9 L241.8 127.5 L242.8 127.4 L243.8 127.5 L244.8 127.7 L245.8 127.6 L246.8 126.8 L247.8 127.5 L248.8 126.5 L249.8 126.4 L250.8 126.6 L251.8 126.5 L252.8 126.4 L253.8 126.3 L254.8 126.2 L255.8 126.3 L256.8 126.1 L257.8 125.8 L258.8 125.6 L259.8 124.9 L260.8 124.8 L261.8 124.9 L262.8 124.9 L263.8 125.8 L264.8 125.2 L265.8 124.9 L266.8 125.2 L267.8 124.4 L268.8 124.1 L269.8 123.6 L270.8 123.4 L271.8 123.9 L272.8 123.5 L273.8 124.4 L274.8 123.8 L275.8 123.3 L276.8 123.6 L277.8 124.0 L278.8 123.7 L279.8 124.2 L280.8 124.0 L281.8 123.6 L282.8 123.9 L283.8 123.5 L284.8 122.7 L285.8 122.4 L286.8 123.1 L287.8 122.9 L288.8 122.6 L289.8 122.5 L290.8 122.3 L291.8 122.5 L292.8 123.0 L293.8 122.6 L294.8 121.6 L295.8 121.7 L296.8 121.5 L297.8 122.2 L298.8 120.9 L299.8 120.5 L300.8 121.1 L301.8 120.9 L302.8 121.0 L303.8 122.2 L304.8 121.3 L305.8 121.4 L306.8 120.8 L307.8 120.8 L308.8 121.3 L309.8 120.6 L310.8 120.2 L311.8 119.7 L312.8 120.1 L313.8 120.0 L314.8 119.9 L315.8 119.6 L316.8 119.8 L317.8 119.6 L318.8 120.4 L319.8 120.3 L320.8 120.0 L321.8 120.0 L322.8 119.0 L323.8 119.4 L324.8 119.8 L325.8 119.0 L326.8 119.0 L327.8 118.2 L328.8 118.7 L329.8 119.2 L330.8 118.0 L331.8 117.6 L332.8 118.0 L333.8 117.5 L334.8 117.7 L335.8 117.1 L336.8 117.5 L337.8 117.1 L338.8 117.3 L339.8 117.3 L340.8 117.4 L341.8 116.5 L342.8 116.6 L343.8 115.7 L344.8 116.5 L345.8 116.3 L346.8 116.1 L347.8 116.5 L348.8 116.7 L349.8 116.2 L350.8 115.3 L351.8 115.9 L352.8 115.8 L353.8 115.0 L354.8 115.6 L355.8 115.3 L356.8 115.6 L357.8 114.9 L358.8 115.2 L359.8 115.1 L360.8 114.1 L361.8 114.7 L362.8 114.6 L363.8 114.6 L364.8 114.6 L365.8 114.9 L366.8 115.5 L367.8 114.3 L368.8 114.9 L369.8 114.5 L370.8 114.9 L371.8 114.0 L372.8 113.6 L373.8 113.4 L374.8 113.6 L375.8 113.6 L376.8 113.8 L377.8 113.8 L378.8 113.5 L379.8 112.9 L380.8 113.3 L381.8 112.9 L382.8 112.8 L383.8 112.8 L384.8 112.7 L385.8 112.6 L386.8 112.7 L387.8 112.3 L388.8 113.2 L389.8 113.2 L390.8 112.6 L391.8 113.0 L392.8 111.8 L393.8 113.2 L394.8 113.2 L395.8 112.7 L396.8 112.0 L397.8 111.4 L398.8 111.3 L399.8 111.8 L400.8 111.5 L401.8 111.7 L402.8 111.7 L403.8 111.6 L404.8 111.6 L405.8 110.9 L406.8 110.8 L407.8 111.5 L408.8 112.1 L409.8 111.4 L410.8 111.6 L411.8 111.1 L412.8 111.5 L413.8 111.5 L414.8 110.8 L415.8 111.5 L416.8 110.7 L417.8 110.8 L418.8 110.9 L419.8 111.4 L420.8 111.2 L421.8 111.4 L422.8 111.3 L423.8 110.9 L424.8 110.8 L425.8 110.7 L426.8 110.3 L427.8 110.6 L428.8 110.6 L429.8 110.9 L430.8 111.1 L431.8 110.7 L432.8 110.1 L433.8 110.2 L434.8 109.8 L435.8 110.2 L436.8 110.1 L437.8 110.0 L438.8 109.3 L439.8 109.0 L440.8 108.9 L441.8 109.1 L442.8 108.8 L443.8 108.3 L444.8 109.3 L445.8 109.5 L446.8 109.6 L447.8 108.7 L448.8 108.8 L449.8 108.3 L450.8 107.5 L451.8 108.2 L452.8 108.2 L453.8 108.1 L454.8 107.3 L455.8 107.8 L456.8 107.2 L457.8 107.4 L458.8 107.1 L459.8 107.4 L460.8 107.6 L461.8 107.5 L462.8 107.9 L463.8 106.7 L464.8 107.4 L465.8 106.1 L466.8 106.3 L467.8 106.4 L468.8 106.6 L469.8 106.7 L470.8 106.1 L471.8 106.8 L472.8 106.0 L473.8 105.8 L474.8 105.3 L475.8 105.7 L476.8 105.4 L477.8 105.8 L478.8 105.9 L479.8 105.8 L480.8 105.2 L481.8 105.4 L482.8 105.1 L483.8 105.1 L484.8 104.6 L485.8 104.2 L486.8 103.6 L487.8 104.4 L488.8 103.9 L489.8 103.6 L490.8 103.7 L491.8 104.0 L492.8 103.8 L493.8 103.6 L494.8 104.0 L495.8 104.2 L496.8 103.4 L497.8 103.0 L498.8 102.8 L499.8 103.2 L500.8 102.9 L501.8 102.3 L502.8 102.2 L503.8 101.9 L504.8 102.2 L505.8 101.7 L506.8 101.6 L507.8 101.6 L508.8 101.3 L509.8 100.9 L510.8 101.0 L511.8 101.7 L512.8 101.0 L513.8 100.8 L514.8 101.4 L515.8 101.5 L516.8 101.2 L517.8 100.9 L518.8 100.2 L519.8 100.2 L520.8 100.2 L521.8 100.9 L522.8 100.4 L523.8 100.1 L524.8 100.4 L525.8 99.4 L526.8 100.7 L527.8 100.0 L528.8 99.4 L529.8 100.2 L530.8 99.8 L531.8 99.2 L532.8 99.2 L533.8 99.8 L534.8 100.0 L535.8 99.2 L536.8 99.6 L537.8 99.4 L538.8 98.6 L539.8 99.1 L540.8 98.8 L541.8 99.2 L542.8 99.2 L543.8 99.4 L544.8 98.5 L545.8 98.4 L546.8 97.7 L547.8 97.6 L548.8 97.9 L549.8 97.5 L550.8 96.8 L551.8 97.1 L552.8 97.0 L553.8 97.4 L554.8 97.1 L555.8 97.7 L556.8 98.0 L557.8 97.7 L558.8 97.4 L559.8 97.7 L560.8 96.7 L561.8 97.2 L562.8 96.8 L563.8 96.8 L564.8 96.0 L565.8 95.6 L566.8 96.0 L567.8 96.0 L568.8 96.3 L569.8 96.0 L570.8 95.9 L571.8 95.6 L572.8 96.0 L573.8 95.3 L574.8 95.5 L575.8 95.4 L576.8 95.4 L577.8 94.9 L578.8 94.8 L579.8 95.1 L580.8 94.6 L581.8 94.2 L582.8 94.6 L583.8 94.5 L584.8 93.7 L585.8 93.2 L586.8 93.5 L587.8 92.9 L588.8 93.3 L589.8 93.6 L590.8 93.9 L591.8 93.7 L592.8 92.5 L593.8 92.6 L594.8 92.4 L595.8 92.4 L596.8 92.3 L597.8 92.1 L598.8 93.1 L599.8 91.8 L600.8 92.8 L601.8 93.0 L602.8 92.1 L603.8 92.4 L604.8 91.9 L605.8 92.4 L606.8 92.2 L607.8 92.2 L608.8 92.0 L609.8 92.0 L610.8 90.8 L611.8 90.9 L612.8 91.0 L613.8 90.6 L614.8 90.4 L615.8 90.6 L616.8 90.8 L617.8 89.6 L618.8 90.0 L619.8 89.8 L620.8 90.3 L621.8 89.4 L622.8 89.3 L623.8 88.7 L624.8 88.5 L625.8 88.2 L626.8 88.6 L627.8 88.0 L628.8 88.0 L629.8 87.1 L630.8 87.1 L631.8 86.4 L632.8 87.4 L633.8 87.2 L634.8 87.6 L635.8 87.6 L636.8 86.9 L637.8 86.9 L638.8 87.0 L639.8 87.3 L640.8 87.4 L641.8 86.7 L642.8 86.3 L643.8 86.2 L644.8 85.3 L645.8 85.5 L646.8 85.4 L647.8 84.8 L648.8 84.6 L649.8 84.5 L650.8 83.8 L651.8 84.1 L652.8 83.3 L653.8 83.5 L654.8 82.9 L655.8 83.4 L656.8 82.8 L657.8 82.7 L658.8 82.5 L659.8 82.4 L660.8 82.1 L661.8 82.3 L662.8 83.2 L663.8 82.1 L664.8 81.8 L665.8 81.2 L666.8 81.8 L667.8 81.7 L668.8 81.9 L669.8 81.0 L670.8 80.8 L671.8 80.6 L672.8 80.0 L673.8 80.0 L674.8 79.9 L675.8 80.0 L676.8 79.5 L677.8 79.1 L678.8 78.9 L679.8 78.9 L680.8 78.1 L681.8 79.1 L682.8 78.6 L683.8 78.2 L684.8 77.9 L685.8 77.8 L686.8 77.2 L687.8 77.1 L688.8 76.9 L689.8 76.9 L690.8 76.4 L691.8 76.3 L692.8 75.7 L693.8 75.8 L694.8 75.5 L695.8 75.3 L696.8 75.7 L697.8 74.0 L698.8 74.2 L699.8 73.7 L700.8 73.2 L701.8 73.2 L702.8 72.5 L703.8 72.0 L704.8 71.7 L705.8 70.8 L706.8 70.4 L707.8 70.2 L708.8 70.3 L709.8 70.2 L710.8 68.9 L711.8 69.0 L712.8 68.3 L713.8 67.8 L714.8 67.5 L715.8 66.5 L716.8 65.4 L718.0 58.5" stroke="#0f2fff" stroke-width="1.6" stroke-dasharray="2.45 1.15"/>
<path d="M130.6 123.0 L131.6 122.2 L132.6 121.9 L133.6 122.2 L134.6 122.0 L135.6 121.1 L136.6 120.7 L137.6 119.5 L138.6 118.5 L139.6 118.1 L140.6 118.3 L141.6 118.5 L142.6 117.2 L143.6 117.3 L144.6 116.2 L145.6 115.8 L146.6 116.6 L147.6 117.1 L148.6 117.6 L149.6 117.6 L150.6 117.5 L151.6 117.0 L152.6 116.6 L153.6 117.2 L154.6 116.6 L155.6 115.1 L156.6 115.3 L157.6 115.3 L158.6 115.3 L159.6 114.9 L160.6 114.9 L161.6 115.5 L162.6 115.8 L163.6 115.9 L164.6 115.4 L165.6 115.0 L166.6 114.9 L167.6 114.2 L168.6 114.9 L169.6 114.3 L170.6 114.8 L171.6 114.2 L172.6 114.1 L173.6 114.2 L174.6 115.2 L175.6 114.7 L176.6 114.2 L177.6 113.7 L178.6 113.6 L179.6 113.4 L180.6 113.7 L181.6 113.0 L182.6 113.6 L183.6 112.9 L184.6 113.5 L185.6 113.8 L186.6 114.2 L187.6 114.0 L188.6 113.4 L189.6 113.4 L190.6 113.1 L191.6 113.3 L192.6 113.2 L193.6 113.5 L194.6 113.2 L195.6 113.4 L196.6 113.5 L197.6 113.5 L198.6 112.8 L199.6 113.3 L200.6 113.6 L201.6 113.2 L202.6 112.8 L203.6 113.0 L204.6 112.9 L205.6 112.9 L206.6 113.1 L207.6 112.7 L208.6 112.9 L209.6 112.5 L210.6 113.3 L211.6 112.7 L212.6 112.9 L213.6 111.8 L214.6 111.9 L215.6 111.6 L216.6 111.1 L217.6 111.8 L218.6 111.8 L219.6 111.7 L220.6 111.3 L221.6 111.9 L222.6 112.5 L223.6 111.9 L224.6 111.8 L225.6 111.0 L226.6 110.6 L227.6 111.5 L228.6 111.4 L229.6 110.5 L230.6 110.8 L231.6 110.9 L232.6 110.9 L233.6 111.4 L234.6 111.3 L235.6 111.7 L236.6 111.3 L237.6 110.5 L238.6 109.7 L239.6 109.6 L240.6 109.2 L241.6 108.5 L242.6 108.8 L243.6 109.4 L244.6 109.2 L245.6 109.4 L246.6 108.4 L247.6 108.6 L248.6 108.7 L249.6 109.7 L250.6 109.1 L251.6 109.1 L252.6 109.1 L253.6 108.8 L254.6 109.2 L255.6 109.1 L256.6 108.7 L257.6 108.3 L258.6 107.3 L259.6 107.7 L260.6 107.8 L261.6 107.4 L262.6 108.5 L263.6 108.0 L264.6 107.5 L265.6 106.7 L266.6 107.3 L267.6 107.8 L268.6 107.5 L269.6 107.4 L270.6 107.8 L271.6 107.0 L272.6 106.8 L273.6 106.9 L274.6 106.7 L275.6 106.7 L276.6 106.9 L277.6 106.5 L278.6 107.3 L279.6 107.5 L280.6 106.6 L281.6 105.8 L282.6 105.6 L283.6 105.7 L284.6 105.5 L285.6 105.5 L286.6 105.7 L287.6 105.9 L288.6 106.3 L289.6 106.1 L290.6 106.5 L291.6 106.2 L292.6 106.1 L293.6 105.6 L294.6 105.2 L295.6 105.3 L296.6 104.8 L297.6 105.5 L298.6 104.9 L299.6 105.6 L300.6 105.4 L301.6 105.7 L302.6 105.8 L303.6 105.4 L304.6 105.4 L305.6 104.2 L306.6 105.3 L307.6 105.3 L308.6 106.3 L309.6 106.0 L310.6 105.8 L311.6 105.2 L312.6 105.1 L313.6 105.1 L314.6 105.1 L315.6 104.8 L316.6 104.8 L317.6 105.5 L318.6 104.5 L319.6 105.0 L320.6 104.7 L321.6 104.7 L322.6 104.6 L323.6 104.7 L324.6 105.5 L325.6 104.3 L326.6 103.8 L327.6 104.0 L328.6 104.1 L329.6 104.2 L330.6 104.6 L331.6 104.3 L332.6 104.3 L333.6 104.4 L334.6 104.6 L335.6 104.0 L336.6 103.4 L337.6 104.0 L338.6 103.8 L339.6 104.0 L340.6 104.0 L341.6 104.1 L342.6 104.2 L343.6 104.3 L344.6 104.0 L345.6 103.5 L346.6 103.2 L347.6 103.6 L348.6 103.7 L349.6 103.1 L350.6 103.6 L351.6 103.3 L352.6 103.8 L353.6 103.2 L354.6 102.4 L355.6 102.4 L356.6 102.3 L357.6 102.4 L358.6 103.0 L359.6 103.5 L360.6 103.0 L361.6 102.3 L362.6 102.9 L363.6 103.7 L364.6 103.5 L365.6 102.7 L366.6 102.8 L367.6 103.5 L368.6 103.2 L369.6 103.3 L370.6 103.3 L371.6 103.7 L372.6 103.1 L373.6 103.3 L374.6 102.4 L375.6 102.2 L376.6 103.0 L377.6 102.6 L378.6 103.0 L379.6 102.7 L380.6 102.7 L381.6 102.2 L382.6 101.9 L383.6 103.0 L384.6 102.6 L385.6 101.5 L386.6 101.6 L387.6 101.8 L388.6 102.1 L389.6 102.0 L390.6 101.9 L391.6 101.4 L392.6 101.7 L393.6 101.6 L394.6 100.6 L395.6 100.9 L396.6 99.9 L397.6 100.8 L398.6 100.2 L399.6 100.2 L400.6 100.0 L401.6 100.8 L402.6 100.5 L403.6 100.6 L404.6 100.9 L405.6 100.6 L406.6 100.8 L407.6 100.1 L408.6 100.4 L409.6 99.8 L410.6 99.5 L411.6 99.9 L412.6 99.7 L413.6 99.7 L414.6 99.2 L415.6 99.3 L416.6 99.7 L417.6 99.6 L418.6 99.1 L419.6 99.2 L420.6 99.7 L421.6 99.7 L422.6 99.4 L423.6 99.3 L424.6 99.9 L425.6 99.4 L426.6 99.3 L427.6 99.0 L428.6 98.7 L429.6 98.5 L430.6 98.9 L431.6 98.2 L432.6 98.4 L433.6 98.1 L434.6 97.7 L435.6 97.8 L436.6 97.8 L437.6 98.3 L438.6 98.5 L439.6 97.8 L440.6 98.4 L441.6 97.9 L442.6 98.1 L443.6 98.4 L444.6 98.0 L445.6 98.3 L446.6 97.6 L447.6 97.3 L448.6 98.1 L449.6 97.8 L450.6 97.4 L451.6 97.1 L452.6 97.2 L453.6 97.4 L454.6 96.9 L455.6 97.3 L456.6 96.8 L457.6 97.2 L458.6 97.9 L459.6 97.7 L460.6 97.1 L461.6 97.3 L462.6 97.2 L463.6 97.4 L464.6 97.2 L465.6 97.4 L466.6 96.9 L467.6 96.8 L468.6 96.8 L469.6 97.0 L470.6 97.3 L471.6 97.8 L472.6 97.5 L473.6 97.3 L474.6 96.8 L475.6 96.2 L476.6 96.4 L477.6 95.9 L478.6 96.0 L479.6 96.0 L480.6 96.0 L481.6 96.0 L482.6 96.8 L483.6 96.3 L484.6 96.8 L485.6 96.6 L486.6 96.7 L487.6 96.2 L488.6 96.2 L489.6 95.9 L490.6 96.6 L491.6 95.8 L492.6 95.6 L493.6 96.1 L494.6 96.6 L495.6 95.7 L496.6 96.1 L497.6 96.0 L498.6 95.4 L499.6 94.8 L500.6 94.9 L501.6 94.8 L502.6 95.0 L503.6 94.3 L504.6 94.0 L505.6 94.2 L506.6 94.2 L507.6 94.9 L508.6 94.8 L509.6 94.6 L510.6 94.3 L511.6 95.1 L512.6 94.1 L513.6 94.5 L514.6 94.4 L515.6 94.7 L516.6 94.5 L517.6 93.7 L518.6 94.4 L519.6 94.9 L520.6 94.2 L521.6 94.5 L522.6 95.0 L523.6 94.6 L524.6 93.9 L525.6 94.3 L526.6 93.6 L527.6 93.4 L528.6 93.7 L529.6 93.8 L530.6 94.0 L531.6 93.5 L532.6 93.4 L533.6 93.0 L534.6 92.8 L535.6 92.9 L536.6 92.5 L537.6 93.0 L538.6 92.6 L539.6 93.3 L540.6 93.1 L541.6 92.4 L542.6 93.2 L543.6 93.2 L544.6 93.1 L545.6 92.3 L546.6 92.8 L547.6 92.9 L548.6 92.4 L549.6 91.8 L550.6 91.5 L551.6 92.4 L552.6 92.1 L553.6 92.4 L554.6 92.4 L555.6 91.9 L556.6 91.7 L557.6 91.6 L558.6 92.2 L559.6 91.9 L560.6 92.0 L561.6 92.2 L562.6 91.8 L563.6 91.7 L564.6 91.8 L565.6 91.6 L566.6 91.2 L567.6 91.3 L568.6 91.4 L569.6 90.9 L570.6 90.9 L571.6 90.4 L572.6 90.7 L573.6 90.2 L574.6 90.7 L575.6 90.2 L576.6 90.3 L577.6 90.6 L578.6 89.8 L579.6 89.8 L580.6 89.9 L581.6 89.9 L582.6 89.7 L583.6 89.5 L584.6 89.3 L585.6 88.7 L586.6 88.5 L587.6 89.0 L588.6 88.8 L589.6 88.5 L590.6 88.9 L591.6 88.3 L592.6 87.9 L593.6 87.7 L594.6 88.3 L595.6 88.3 L596.6 87.5 L597.6 88.1 L598.6 88.0 L599.6 87.4 L600.6 87.6 L601.6 87.0 L602.6 86.9 L603.6 86.5 L604.6 86.2 L605.6 85.3 L606.6 86.3 L607.6 85.6 L608.6 86.5 L609.6 86.6 L610.6 86.4 L611.6 86.8 L612.6 86.2 L613.6 86.5 L614.6 85.6 L615.6 85.7 L616.6 85.5 L617.6 85.3 L618.6 85.3 L619.6 85.1 L620.6 85.6 L621.6 84.9 L622.6 85.6 L623.6 84.2 L624.6 85.1 L625.6 84.8 L626.6 84.9 L627.6 84.9 L628.6 84.3 L629.6 84.5 L630.6 84.1 L631.6 84.0 L632.6 84.8 L633.6 84.1 L634.6 84.1 L635.6 83.0 L636.6 82.8 L637.6 82.7 L638.6 82.3 L639.6 82.1 L640.6 82.4 L641.6 81.5 L642.6 82.3 L643.6 82.2 L644.6 81.7 L645.6 82.0 L646.6 82.0 L647.6 81.5 L648.6 81.6 L649.6 81.7 L650.6 80.9 L651.6 80.9 L652.6 80.2 L653.6 80.9 L654.6 81.3 L655.6 81.2 L656.6 80.3 L657.6 79.7 L658.6 79.5 L659.6 80.1 L660.6 79.8 L661.6 79.4 L662.6 79.7 L663.6 79.0 L664.6 79.3 L665.6 78.7 L666.6 78.0 L667.6 78.0 L668.6 78.0 L669.6 78.0 L670.6 77.3 L671.6 77.1 L672.6 77.0 L673.6 76.6 L674.6 76.2 L675.6 76.8 L676.6 75.8 L677.6 76.0 L678.6 76.0 L679.6 76.0 L680.6 75.8 L681.6 75.7 L682.6 75.0 L683.6 75.2 L684.6 75.7 L685.6 75.2 L686.6 75.0 L687.6 74.6 L688.6 73.7 L689.6 74.2 L690.6 73.6 L691.6 72.7 L692.6 72.7 L693.6 72.2 L694.6 71.8 L695.6 72.1 L696.6 72.1 L697.6 71.7 L698.6 70.6 L699.6 70.9 L700.6 71.0 L701.6 71.0 L702.6 70.9 L703.6 70.6 L704.6 70.1 L705.6 68.6 L706.6 68.2 L707.6 67.7 L708.6 67.0 L709.6 66.2 L710.6 65.6 L711.6 64.8 L712.6 65.0 L713.6 64.1 L714.6 64.0 L715.6 63.2 L716.6 62.0 L718.0 58.4" stroke="#a01fd2" stroke-width="1.6" stroke-dasharray="2.3 1.15"/>
<path d="M130.6 90.4 L131.6 89.0 L132.6 88.1 L133.6 87.5 L134.6 86.0 L135.6 86.0 L136.6 85.5 L137.6 86.0 L138.6 85.0 L139.6 84.5 L140.6 84.6 L141.6 83.9 L142.6 84.1 L143.6 84.0 L144.6 83.6 L145.6 83.3 L146.6 83.2 L147.6 83.3 L148.6 84.0 L149.6 84.0 L150.6 83.9 L151.6 83.7 L152.6 84.3 L153.6 82.9 L154.6 82.7 L155.6 82.0 L156.6 82.6 L157.6 82.8 L158.6 83.2 L159.6 82.7 L160.6 82.6 L161.6 81.7 L162.6 82.3 L163.6 82.5 L164.6 82.2 L165.6 82.4 L166.6 82.5 L167.6 83.0 L168.6 82.5 L169.6 81.7 L170.6 82.5 L171.6 83.0 L172.6 82.9 L173.6 82.9 L174.6 82.4 L175.6 82.3 L176.6 82.4 L177.6 83.0 L178.6 81.9 L179.6 82.2 L180.6 82.0 L181.6 82.3 L182.6 81.9 L183.6 81.6 L184.6 81.7 L185.6 81.7 L186.6 82.3 L187.6 81.9 L188.6 82.5 L189.6 81.5 L190.6 81.7 L191.6 82.1 L192.6 82.3 L193.6 82.2 L194.6 82.2 L195.6 82.0 L196.6 81.5 L197.6 81.8 L198.6 82.0 L199.6 81.7 L200.6 81.7 L201.6 81.6 L202.6 81.7 L203.6 82.4 L204.6 82.0 L205.6 82.3 L206.6 82.1 L207.6 81.9 L208.6 82.0 L209.6 81.3 L210.6 81.6 L211.6 81.8 L212.6 81.7 L213.6 81.8 L214.6 81.3 L215.6 81.4 L216.6 80.5 L217.6 81.3 L218.6 80.9 L219.6 81.3 L220.6 81.7 L221.6 81.3 L222.6 81.7 L223.6 81.3 L224.6 81.2 L225.6 81.9 L226.6 81.5 L227.6 80.8 L228.6 81.0 L229.6 81.2 L230.6 81.6 L231.6 80.8 L232.6 81.2 L233.6 81.3 L234.6 81.8 L235.6 81.9 L236.6 82.5 L237.6 82.2 L238.6 81.6 L239.6 81.0 L240.6 81.0 L241.6 81.2 L242.6 81.3 L243.6 81.6 L244.6 81.7 L245.6 81.2 L246.6 81.4 L247.6 80.8 L248.6 81.2 L249.6 80.2 L250.6 81.1 L251.6 81.0 L252.6 80.6 L253.6 79.9 L254.6 80.3 L255.6 80.9 L256.6 80.3 L257.6 80.5 L258.6 80.1 L259.6 81.1 L260.6 80.7 L261.6 80.4 L262.6 80.6 L263.6 80.6 L264.6 81.3 L265.6 81.6 L266.6 81.8 L267.6 81.7 L268.6 81.5 L269.6 81.3 L270.6 81.1 L271.6 80.9 L272.6 81.2 L273.6 81.2 L274.6 80.9 L275.6 80.5 L276.6 79.8 L277.6 80.6 L278.6 80.9 L279.6 80.8 L280.6 80.7 L281.6 80.0 L282.6 79.3 L283.6 79.8 L284.6 79.8 L285.6 79.8 L286.6 80.7 L287.6 80.2 L288.6 79.3 L289.6 80.3 L290.6 80.3 L291.6 80.4 L292.6 80.4 L293.6 80.4 L294.6 79.9 L295.6 79.7 L296.6 80.1 L297.6 79.8 L298.6 80.1 L299.6 80.1 L300.6 79.0 L301.6 79.9 L302.6 80.1 L303.6 80.5 L304.6 80.0 L305.6 80.7 L306.6 80.1 L307.6 80.0 L308.6 80.1 L309.6 80.2 L310.6 80.0 L311.6 79.7 L312.6 79.8 L313.6 79.5 L314.6 79.5 L315.6 79.5 L316.6 78.7 L317.6 79.5 L318.6 79.2 L319.6 79.3 L320.6 79.2 L321.6 79.3 L322.6 79.7 L323.6 79.3 L324.6 79.4 L325.6 79.5 L326.6 79.8 L327.6 79.8 L328.6 79.8 L329.6 79.4 L330.6 79.9 L331.6 80.2 L332.6 80.1 L333.6 80.2 L334.6 79.3 L335.6 79.8 L336.6 79.6 L337.6 79.6 L338.6 79.7 L339.6 79.9 L340.6 79.2 L341.6 80.1 L342.6 80.2 L343.6 80.3 L344.6 79.7 L345.6 79.9 L346.6 80.1 L347.6 80.2 L348.6 80.0 L349.6 79.4 L350.6 79.2 L351.6 80.0 L352.6 79.6 L353.6 80.5 L354.6 80.0 L355.6 79.4 L356.6 79.1 L357.6 79.8 L358.6 80.3 L359.6 80.3 L360.6 80.5 L361.6 80.2 L362.6 79.9 L363.6 80.7 L364.6 80.7 L365.6 80.6 L366.6 80.1 L367.6 79.5 L368.6 80.2 L369.6 80.2 L370.6 79.8 L371.6 79.4 L372.6 79.6 L373.6 79.8 L374.6 79.2 L375.6 79.5 L376.6 79.5 L377.6 80.3 L378.6 80.0 L379.6 80.3 L380.6 80.4 L381.6 80.2 L382.6 79.7 L383.6 80.1 L384.6 79.8 L385.6 79.8 L386.6 79.9 L387.6 80.0 L388.6 80.3 L389.6 80.3 L390.6 80.3 L391.6 79.9 L392.6 80.4 L393.6 80.1 L394.6 80.0 L395.6 80.2 L396.6 79.8 L397.6 79.3 L398.6 79.2 L399.6 78.9 L400.6 79.2 L401.6 79.5 L402.6 79.6 L403.6 79.7 L404.6 79.3 L405.6 79.8 L406.6 80.1 L407.6 80.3 L408.6 80.0 L409.6 79.9 L410.6 79.6 L411.6 79.7 L412.6 79.5 L413.6 79.7 L414.6 79.2 L415.6 79.4 L416.6 79.6 L417.6 79.9 L418.6 79.9 L419.6 80.2 L420.6 80.0 L421.6 80.3 L422.6 80.4 L423.6 80.1 L424.6 80.1 L425.6 80.2 L426.6 79.5 L427.6 79.6 L428.6 80.1 L429.6 80.0 L430.6 80.0 L431.6 80.4 L432.6 80.2 L433.6 80.7 L434.6 80.6 L435.6 80.7 L436.6 80.4 L437.6 79.9 L438.6 80.1 L439.6 79.7 L440.6 79.7 L441.6 79.8 L442.6 80.1 L443.6 79.5 L444.6 78.6 L445.6 78.4 L446.6 78.4 L447.6 79.2 L448.6 80.0 L449.6 79.2 L450.6 79.3 L451.6 79.6 L452.6 79.1 L453.6 79.7 L454.6 79.9 L455.6 80.0 L456.6 79.8 L457.6 79.4 L458.6 79.3 L459.6 79.2 L460.6 79.3 L461.6 80.0 L462.6 80.0 L463.6 79.8 L464.6 80.1 L465.6 79.4 L466.6 79.9 L467.6 80.1 L468.6 80.1 L469.6 79.7 L470.6 79.9 L471.6 79.9 L472.6 79.5 L473.6 78.7 L474.6 79.1 L475.6 79.6 L476.6 79.0 L477.6 80.1 L478.6 79.2 L479.6 79.8 L480.6 79.5 L481.6 79.1 L482.6 78.4 L483.6 79.4 L484.6 79.0 L485.6 79.7 L486.6 79.6 L487.6 79.7 L488.6 79.1 L489.6 79.1 L490.6 79.0 L491.6 80.0 L492.6 79.9 L493.6 79.5 L494.6 80.0 L495.6 79.6 L496.6 80.2 L497.6 79.4 L498.6 79.6 L499.6 78.6 L500.6 79.4 L501.6 79.7 L502.6 79.4 L503.6 79.6 L504.6 79.5 L505.6 79.6 L506.6 79.8 L507.6 80.6 L508.6 80.0 L509.6 79.9 L510.6 79.4 L511.6 79.2 L512.6 79.0 L513.6 79.0 L514.6 79.4 L515.6 78.7 L516.6 79.5 L517.6 78.9 L518.6 78.8 L519.6 78.6 L520.6 78.6 L521.6 79.1 L522.6 78.8 L523.6 79.0 L524.6 78.3 L525.6 78.8 L526.6 78.9 L527.6 79.1 L528.6 78.2 L529.6 77.9 L530.6 78.3 L531.6 78.5 L532.6 78.4 L533.6 78.4 L534.6 78.8 L535.6 78.2 L536.6 78.7 L537.6 78.2 L538.6 78.9 L539.6 79.0 L540.6 78.7 L541.6 79.2 L542.6 78.6 L543.6 79.1 L544.6 78.3 L545.6 78.3 L546.6 77.8 L547.6 78.0 L548.6 78.3 L549.6 78.1 L550.6 78.6 L551.6 77.7 L552.6 77.9 L553.6 78.5 L554.6 78.2 L555.6 78.2 L556.6 77.6 L557.6 77.6 L558.6 77.9 L559.6 77.5 L560.6 77.5 L561.6 78.4 L562.6 78.1 L563.6 77.5 L564.6 77.2 L565.6 78.2 L566.6 78.1 L567.6 77.8 L568.6 77.3 L569.6 77.6 L570.6 77.4 L571.6 76.7 L572.6 77.2 L573.6 77.0 L574.6 76.4 L575.6 76.2 L576.6 76.5 L577.6 76.3 L578.6 76.0 L579.6 76.3 L580.6 76.5 L581.6 77.0 L582.6 76.7 L583.6 76.3 L584.6 76.0 L585.6 76.1 L586.6 76.6 L587.6 76.4 L588.6 76.2 L589.6 76.3 L590.6 75.9 L591.6 76.4 L592.6 76.4 L593.6 75.8 L594.6 75.2 L595.6 75.8 L596.6 75.2 L597.6 75.3 L598.6 74.7 L599.6 75.1 L600.6 74.7 L601.6 75.3 L602.6 75.1 L603.6 75.4 L604.6 75.6 L605.6 75.3 L606.6 75.2 L607.6 75.5 L608.6 74.9 L609.6 75.2 L610.6 75.6 L611.6 75.4 L612.6 75.4 L613.6 74.2 L614.6 74.1 L615.6 74.1 L616.6 74.9 L617.6 74.4 L618.6 74.4 L619.6 74.5 L620.6 74.6 L621.6 74.7 L622.6 73.6 L623.6 73.2 L624.6 73.6 L625.6 73.6 L626.6 74.1 L627.6 73.9 L628.6 73.5 L629.6 73.1 L630.6 72.5 L631.6 73.4 L632.6 72.9 L633.6 72.9 L634.6 72.4 L635.6 72.3 L636.6 72.2 L637.6 72.4 L638.6 70.7 L639.6 71.0 L640.6 71.7 L641.6 71.7 L642.6 71.3 L643.6 71.4 L644.6 71.8 L645.6 71.2 L646.6 71.1 L647.6 70.6 L648.6 71.4 L649.6 71.2 L650.6 71.4 L651.6 71.8 L652.6 71.1 L653.6 71.1 L654.6 71.1 L655.6 70.8 L656.6 70.6 L657.6 70.8 L658.6 70.5 L659.6 70.3 L660.6 70.1 L661.6 70.7 L662.6 70.1 L663.6 70.1 L664.6 70.4 L665.6 71.1 L666.6 70.3 L667.6 70.1 L668.6 69.6 L669.6 70.3 L670.6 69.8 L671.6 69.9 L672.6 69.6 L673.6 69.9 L674.6 69.6 L675.6 69.8 L676.6 68.9 L677.6 69.1 L678.6 69.3 L679.6 69.2 L680.6 68.7 L681.6 69.1 L682.6 68.6 L683.6 68.2 L684.6 68.1 L685.6 67.5 L686.6 67.9 L687.6 67.6 L688.6 67.8 L689.6 67.5 L690.6 68.0 L691.6 67.8 L692.6 67.5 L693.6 67.1 L694.6 66.6 L695.6 66.7 L696.6 66.1 L697.6 66.5 L698.6 66.1 L699.6 66.2 L700.6 65.9 L701.6 65.9 L702.6 65.4 L703.6 64.4 L704.6 65.2 L705.6 65.2 L706.6 65.0 L707.6 64.7 L708.6 64.2 L709.6 64.0 L710.6 63.9 L711.6 63.3 L712.6 63.5 L713.6 62.4 L714.6 62.3 L715.6 61.7 L716.6 60.7 L718.0 58.2" stroke="#ff3cff" stroke-width="1.6" stroke-dasharray="2.3 1.15"/>
<path d="M131.4 9.8 L131.6 44 L132.4 47.8" stroke="#000000" stroke-width="1.5" stroke-dasharray="3.4 1.6"/>
<path d="M125.0 290.0 L125.2 288.0 L125.4 286.0 L125.6 284.0 L125.8 282.0 L125.9 280.0 L126.0 278.0 L126.1 276.0 L126.2 274.0 L126.3 272.0 L126.4 270.0 L126.5 268.0 L126.6 266.0 L126.7 264.0 L126.7 262.0 L126.8 260.0 L126.9 258.0 L127.0 256.0 L127.0 254.0 L127.1 252.0 L127.2 250.0 L127.2 248.0 L127.3 246.0 L127.4 244.0 L127.4 242.0 L127.5 240.0 L127.5 238.0 L127.6 236.0 L127.6 234.0 L127.7 232.0 L127.7 230.0 L127.8 228.0 L127.8 226.0 L127.9 224.0 L127.9 222.0 L128.0 220.0 L128.0 218.0 L128.1 216.0 L128.1 214.0 L128.1 212.0 L128.2 210.0 L128.2 208.0 L128.3 206.0 L128.3 204.0 L128.3 202.0 L128.4 200.0 L128.4 198.0 L128.5 196.0 L128.5 194.0 L128.6 192.0 L128.6 190.0 L128.6 188.0 L128.7 186.0 L128.7 184.0 L128.8 182.0 L128.8 180.0 L128.8 178.0 L128.9 176.0 L128.9 174.0 L129.0 172.0 L129.0 170.0 L129.0 168.0 L129.1 166.0 L129.1 164.0 L129.1 162.0 L129.1 160.0 L129.2 158.0 L129.2 156.0 L129.2 154.0 L129.3 152.0 L129.3 150.0 L129.3 148.0 L129.4 146.0 L129.4 144.0 L129.4 142.0 L129.4 140.0 L129.5 138.0 L129.5 136.0 L129.5 134.0 L129.5 132.0 L129.6 130.0 L129.6 128.0 L129.6 126.0 L129.6 124.0 L129.7 122.0 L129.7 120.0 L129.7 118.0 L129.7 116.0 L129.8 114.0 L129.8 112.0 L129.8 110.0 L129.8 108.0 L129.8 106.0 L129.9 104.0 L129.9 102.0 L129.9 100.0 L129.9 98.0 L129.9 96.0 L130.0 94.0 L130.0 92.0 L130.0 90.0 L130.0 88.0 L130.0 86.0 L130.0 84.0 L130.0 82.0 L130.1 80.0 L130.1 78.0 L130.1 76.0 L130.1 74.0 L130.1 72.0" stroke="#ff2a0e" stroke-width="3.3" stroke-linecap="round" stroke-dasharray="1.9 8.0"/>
<path d="M113.2 396.0 L113.4 394.0 L113.7 392.0 L114.0 390.0 L114.2 388.0 L114.4 386.0 L114.7 384.0 L114.9 382.0 L115.2 380.0 L115.4 378.0 L115.6 376.0 L115.9 374.0 L116.1 372.0 L116.3 370.0 L116.5 368.0 L116.8 366.0 L117.0 364.0 L117.2 362.0 L117.4 360.0 L117.6 358.0 L117.8 356.0 L117.9 354.0 L118.1 352.0 L118.3 350.0 L118.4 348.0 L118.6 346.0 L118.8 344.0 L119.0 342.0 L119.1 340.0 L119.3 338.0 L119.5 336.0 L119.7 334.0 L119.9 332.0 L120.1 330.0 L120.3 328.0 L120.5 326.0 L120.7 324.0 L120.9 322.0 L121.2 320.0 L121.4 318.0 L121.6 316.0 L121.8 314.0 L122.1 312.0 L122.3 310.0 L122.5 308.0 L122.8 306.0 L123.0 304.0 L123.3 302.0 L123.6 300.0 L123.9 298.0 L124.2 296.0 L124.4 294.0 L124.7 292.0 L125.0 290.0 L125.2 288.0" stroke="#ff2a0e" stroke-width="3.1" stroke-linecap="round" stroke-dasharray="1.6 5.8"/>
<path d="M130.1 18.0 L130.1 20.0 L130.1 22.0 L130.1 24.0 L130.1 26.0 L130.1 28.0 L130.1 30.0 L130.1 32.0 L130.1 34.0 L130.1 36.0 L130.1 38.0 L130.1 40.0 L130.2 42.0 L130.2 44.0 L130.2 46.0 L130.2 48.0 L130.2 50.0 L130.2 52.0 L130.3 54.0 L130.3 56.0 L130.3 58.0 L130.5 60.0 L131.0 62.0 L131.5 64.0" stroke="#ff2a0e" stroke-width="3.6" stroke-linecap="round" stroke-dasharray="3.6 6.1"/>
<path d="M127.9 8.3 V13" stroke="#ff3cff" stroke-width="1.6"/>
<path d="M132.0 65.6 L133.0 63.9 L134.0 62.3 L135.0 60.9 L136.0 60.3 L137.0 60.6 L138.0 59.7 L139.0 58.0 L140.0 58.2 L141.0 59.4 L142.0 59.0 L143.0 58.0 L144.0 58.9 L145.0 58.7 L146.0 59.7 L147.0 58.7 L148.0 59.5 L149.0 59.1 L150.0 58.2 L151.0 58.5 L152.0 59.4 L153.0 59.5 L154.0 58.4 L155.0 59.8 L156.0 59.3 L157.0 58.4 L158.0 58.9 L159.0 58.1 L160.0 57.8 L161.0 57.7 L162.0 57.4 L163.0 57.4 L164.0 57.4 L165.0 57.5 L166.0 58.2 L167.0 58.2 L168.0 58.5 L169.0 57.7 L170.0 58.2 L171.0 59.2 L172.0 58.3 L173.0 58.9 L174.0 59.8 L175.0 59.7 L176.0 59.2 L177.0 58.8 L178.0 57.4 L179.0 58.1 L180.0 58.3 L181.0 58.4 L182.0 58.2 L183.0 57.6 L184.0 59.3 L185.0 58.3 L186.0 57.8 L187.0 57.6 L188.0 57.7 L189.0 58.4 L190.0 58.6 L191.0 58.9 L192.0 59.3 L193.0 58.7 L194.0 58.5 L195.0 57.4 L196.0 58.7 L197.0 58.4 L198.0 58.2 L199.0 58.0 L200.0 58.6 L201.0 58.9 L202.0 58.1 L203.0 58.0 L204.0 57.5 L205.0 57.5 L206.0 58.6 L207.0 57.5 L208.0 58.5 L209.0 58.7 L210.0 58.0 L211.0 57.7 L212.0 57.6 L213.0 57.3 L214.0 58.7 L215.0 57.9 L216.0 57.8 L217.0 57.5 L218.0 57.8 L219.0 58.2 L220.0 59.0 L221.0 58.6 L222.0 58.3 L223.0 60.1 L224.0 59.9 L225.0 59.2 L226.0 58.5 L227.0 57.6 L228.0 57.2 L229.0 57.7 L230.0 57.5 L231.0 58.2 L232.0 58.6 L233.0 58.0 L234.0 57.6 L235.0 57.5 L236.0 57.5 L237.0 57.2 L238.0 58.4 L239.0 58.2 L240.0 59.5 L241.0 59.1 L242.0 58.0 L243.0 58.1 L244.0 58.5 L245.0 59.1 L246.0 58.9 L247.0 58.2 L248.0 58.3 L249.0 59.0 L250.0 58.2 L251.0 58.7 L252.0 57.3 L253.0 57.2 L254.0 58.2 L255.0 58.3 L256.0 58.3 L257.0 57.9 L258.0 57.9 L259.0 58.6 L260.0 58.3 L261.0 58.8 L262.0 59.3 L263.0 58.4 L264.0 58.2 L265.0 57.6 L266.0 57.9 L267.0 58.4 L268.0 57.9 L269.0 57.5 L270.0 58.2 L271.0 58.0 L272.0 58.1 L273.0 57.7 L274.0 57.6 L275.0 58.8 L276.0 58.5 L277.0 58.3 L278.0 58.2 L279.0 59.4 L280.0 59.1 L281.0 59.2 L282.0 59.1 L283.0 59.1 L284.0 59.7 L285.0 59.0 L286.0 58.6 L287.0 58.5 L288.0 58.5 L289.0 58.0 L290.0 58.0 L291.0 58.0 L292.0 57.9 L293.0 58.2 L294.0 57.0 L295.0 56.7 L296.0 56.9 L297.0 58.7 L298.0 58.8 L299.0 57.7 L300.0 57.7 L301.0 56.7 L302.0 58.4 L303.0 57.7 L304.0 58.0 L305.0 58.2 L306.0 57.7 L307.0 58.0 L308.0 57.7 L309.0 58.4 L310.0 57.7 L311.0 58.1 L312.0 58.2 L313.0 58.0 L314.0 57.6 L315.0 58.1 L316.0 58.7 L317.0 58.7 L318.0 58.9 L319.0 58.4 L320.0 58.5 L321.0 58.9 L322.0 58.3 L323.0 57.9 L324.0 57.7 L325.0 58.1 L326.0 58.1 L327.0 58.4 L328.0 58.9 L329.0 59.6 L330.0 58.3 L331.0 58.8 L332.0 58.3 L333.0 58.9 L334.0 58.4 L335.0 59.4 L336.0 57.2 L337.0 57.3 L338.0 57.7 L339.0 58.2 L340.0 58.1 L341.0 57.8 L342.0 56.3 L343.0 58.4 L344.0 58.1 L345.0 58.3 L346.0 57.8 L347.0 58.8 L348.0 57.6 L349.0 59.1 L350.0 57.7 L351.0 58.9 L352.0 58.7 L353.0 59.7 L354.0 60.1 L355.0 59.0 L356.0 58.8 L357.0 59.8 L358.0 57.9 L359.0 57.9 L360.0 58.4 L361.0 58.6 L362.0 58.3 L363.0 57.6 L364.0 57.2 L365.0 57.8 L366.0 58.4 L367.0 58.7 L368.0 57.9 L369.0 57.6 L370.0 58.6 L371.0 58.4 L372.0 58.2 L373.0 58.3 L374.0 59.1 L375.0 58.4 L376.0 58.9 L377.0 58.5 L378.0 58.1 L379.0 58.4 L380.0 57.6 L381.0 58.1 L382.0 58.2 L383.0 57.6 L384.0 58.4 L385.0 59.4 L386.0 58.3 L387.0 58.9 L388.0 58.5 L389.0 60.0 L390.0 59.5 L391.0 57.6 L392.0 58.2 L393.0 58.8 L394.0 58.6 L395.0 58.5 L396.0 58.7 L397.0 59.2 L398.0 58.1 L399.0 57.8 L400.0 57.5 L401.0 58.4 L402.0 59.0 L403.0 58.0 L404.0 56.9 L405.0 58.3 L406.0 57.3 L407.0 57.3 L408.0 58.3 L409.0 57.4 L410.0 57.7 L411.0 57.5 L412.0 58.4 L413.0 57.9 L414.0 58.5 L415.0 57.8 L416.0 57.5 L417.0 57.9 L418.0 58.2 L419.0 57.4 L420.0 58.6 L421.0 58.6 L422.0 58.5 L423.0 57.9 L424.0 58.3 L425.0 58.4 L426.0 58.5 L427.0 58.2 L428.0 57.5 L429.0 57.9 L430.0 58.4 L431.0 58.6 L432.0 58.7 L433.0 59.0 L434.0 58.0 L435.0 57.6 L436.0 57.5 L437.0 57.7 L438.0 58.3 L439.0 57.5 L440.0 57.9 L441.0 57.3 L442.0 58.1 L443.0 57.3 L444.0 56.9 L445.0 56.2 L446.0 57.1 L447.0 56.8 L448.0 57.6 L449.0 57.9 L450.0 57.3 L451.0 57.6 L452.0 58.3 L453.0 57.8 L454.0 57.5 L455.0 58.1 L456.0 57.3 L457.0 56.8 L458.0 58.9 L459.0 58.1 L460.0 58.7 L461.0 58.3 L462.0 57.9 L463.0 58.1 L464.0 58.0 L465.0 58.0 L466.0 57.9 L467.0 57.7 L468.0 57.8 L469.0 58.7 L470.0 58.6 L471.0 57.1 L472.0 57.4 L473.0 58.0 L474.0 57.9 L475.0 57.8 L476.0 59.0 L477.0 59.1 L478.0 58.6 L479.0 58.7 L480.0 59.2 L481.0 59.4 L482.0 58.7 L483.0 58.3 L484.0 57.4 L485.0 58.3 L486.0 58.2 L487.0 58.0 L488.0 57.1 L489.0 58.2 L490.0 58.0 L491.0 57.9 L492.0 58.0 L493.0 58.1 L494.0 58.1 L495.0 58.5 L496.0 58.6 L497.0 57.7 L498.0 57.5 L499.0 57.6 L500.0 59.0 L501.0 58.4 L502.0 58.3 L503.0 58.0 L504.0 57.7 L505.0 58.5 L506.0 58.0 L507.0 57.3 L508.0 57.6 L509.0 57.8 L510.0 57.5 L511.0 58.6 L512.0 58.6 L513.0 58.7 L514.0 58.6 L515.0 57.5 L516.0 57.0 L517.0 58.3 L518.0 58.5 L519.0 58.3 L520.0 58.5 L521.0 59.6 L522.0 58.9 L523.0 58.8 L524.0 58.4 L525.0 58.7 L526.0 59.1 L527.0 58.7 L528.0 58.9 L529.0 58.7 L530.0 57.9 L531.0 58.6 L532.0 58.0 L533.0 58.1 L534.0 59.1 L535.0 58.8 L536.0 58.1 L537.0 58.4 L538.0 57.6 L539.0 57.3 L540.0 58.1 L541.0 57.7 L542.0 56.8 L543.0 57.6 L544.0 58.0 L545.0 58.1 L546.0 58.2 L547.0 57.6 L548.0 58.4 L549.0 59.2 L550.0 57.6 L551.0 58.8 L552.0 57.4 L553.0 57.9 L554.0 58.0 L555.0 59.0 L556.0 58.8 L557.0 59.9 L558.0 59.2 L559.0 59.2 L560.0 58.2 L561.0 58.2 L562.0 58.1 L563.0 58.1 L564.0 57.9 L565.0 58.1 L566.0 57.9 L567.0 58.6 L568.0 58.1 L569.0 58.9 L570.0 57.8 L571.0 58.4 L572.0 57.8 L573.0 58.7 L574.0 58.3 L575.0 58.2 L576.0 57.7 L577.0 58.2 L578.0 58.2 L579.0 58.3 L580.0 57.9 L581.0 58.1 L582.0 57.8 L583.0 58.9 L584.0 59.2 L585.0 58.8 L586.0 58.0 L587.0 58.9 L588.0 59.0 L589.0 57.3 L590.0 57.6 L591.0 58.2 L592.0 57.0 L593.0 58.2 L594.0 58.8 L595.0 58.5 L596.0 57.9 L597.0 58.8 L598.0 58.5 L599.0 57.0 L600.0 57.7 L601.0 58.5 L602.0 57.7 L603.0 58.2 L604.0 58.0 L605.0 57.7 L606.0 57.6 L607.0 57.8 L608.0 58.7 L609.0 58.1 L610.0 58.4 L611.0 57.8 L612.0 57.9 L613.0 58.2 L614.0 58.2 L615.0 57.9 L616.0 58.0 L617.0 57.3 L618.0 57.6 L619.0 56.8 L620.0 57.9 L621.0 57.6 L622.0 57.9 L623.0 57.2 L624.0 57.3 L625.0 58.2 L626.0 57.5 L627.0 56.5 L628.0 58.3 L629.0 58.5 L630.0 57.6 L631.0 58.5 L632.0 58.2 L633.0 58.6 L634.0 59.2 L635.0 57.8 L636.0 57.4 L637.0 57.4 L638.0 57.4 L639.0 57.6 L640.0 58.9 L641.0 58.5 L642.0 58.6 L643.0 57.7 L644.0 57.7 L645.0 57.2 L646.0 58.9 L647.0 57.2 L648.0 56.8 L649.0 58.6 L650.0 58.0 L651.0 58.0 L652.0 57.8 L653.0 56.9 L654.0 57.6 L655.0 57.4 L656.0 57.3 L657.0 56.5 L658.0 57.1 L659.0 57.5 L660.0 57.2 L661.0 57.5 L662.0 58.1 L663.0 57.1 L664.0 57.0 L665.0 57.4 L666.0 58.0 L667.0 58.1 L668.0 57.1 L669.0 57.5 L670.0 57.0 L671.0 58.3 L672.0 58.4 L673.0 58.5 L674.0 57.7 L675.0 58.4 L676.0 58.0 L677.0 57.0 L678.0 58.7 L679.0 57.2 L680.0 57.9 L681.0 56.8 L682.0 57.3 L683.0 56.8 L684.0 57.6 L685.0 57.4 L686.0 58.4 L687.0 57.9 L688.0 57.7 L689.0 57.8 L690.0 57.9 L691.0 57.9 L692.0 58.4 L693.0 57.7 L694.0 56.8 L695.0 57.8 L696.0 58.6 L697.0 58.6 L698.0 58.5 L699.0 58.5 L700.0 58.0 L701.0 57.9 L702.0 58.2 L703.0 57.5 L704.0 58.6 L705.0 57.9 L706.0 58.6 L707.0 58.8 L708.0 58.9 L709.0 59.2 L710.0 58.1 L711.0 58.5 L712.0 59.1 L713.0 58.4 L714.0 57.8 L715.0 57.9 L716.0 58.4 L717.0 58.8 L718.0 57.8 L719.0 57.9 L720.0 57.4 L721.0 57.1 L722.0 58.7 L723.0 58.6 L724.0 58.5 L725.0 58.1 L726.0 57.6 L727.0 58.5 L728.0 58.7 L729.0 58.0 L730.0 57.5 L731.0 57.4 L732.0 57.5 L733.0 56.6 L734.0 57.3 L735.0 57.2 L736.0 56.5 L737.0 58.2 L738.0 58.6 L739.0 58.4 L740.0 59.0 L741.0 58.1 L742.0 58.6 L743.0 58.9 L744.0 58.1 L745.0 57.6 L746.0 58.0 L747.0 57.9 L748.0 58.8 L749.0 58.9 L750.0 58.3 L751.0 59.0 L752.0 58.7 L753.0 57.8" stroke="#ff2a0e" stroke-width="3.2" stroke-linecap="round" stroke-dasharray="0.1 3.6"/>
<path d="M752.1 51.4 V56" stroke="#0f2fff" stroke-width="1.1"/>
</g>
<g font-family="'Liberation Serif', serif" font-weight="bold" font-size="27.1px" fill="#000">
<text transform="translate(93.1 19.5) scale(0.985 1.070)" text-anchor="end">0</text>
<text transform="translate(93.1 116.8) scale(0.985 1.070)" text-anchor="end">-0.05</text>
<text transform="translate(93.1 214.0) scale(0.985 1.070)" text-anchor="end">-0.1</text>
<text transform="translate(93.1 311.2) scale(0.985 1.070)" text-anchor="end">-0.15</text>
<text transform="translate(93.1 408.5) scale(0.985 1.070)" text-anchor="end">-0.2</text>
<text transform="translate(762.0 19.2) scale(1.000 1.070)">100</text>
<text transform="translate(762.0 116.5) scale(1.000 1.070)">90</text>
<text transform="translate(762.0 213.7) scale(1.000 1.070)">80</text>
<text transform="translate(762.0 310.9) scale(1.000 1.070)">70</text>
<text transform="translate(762.0 408.2) scale(1.000 1.070)">60</text>
<text transform="translate(156.1 436.4) scale(0.985 1.070)" text-anchor="middle">-80</text>
<text transform="translate(296.2 436.4) scale(0.985 1.070)" text-anchor="middle">-40</text>
<text transform="translate(436.9 436.4) scale(0.985 1.070)" text-anchor="middle">0</text>
<text transform="translate(577.0 436.4) scale(0.985 1.070)" text-anchor="middle">40</text>
<text transform="translate(717.1 436.4) scale(0.985 1.070)" text-anchor="middle">80</text>
<text x="428.3" y="466.8" text-anchor="middle" font-size="27.2px">position <tspan font-style="italic">x</tspan> (nm)</text>
<text transform="translate(21.9 205.2) rotate(-90)" text-anchor="middle" font-size="27.3px" style="font-variant-ligatures:none">flow velocity <tspan font-style="italic">u</tspan><tspan font-style="italic" font-size="20px" dy="5">x</tspan><tspan dy="-5"> (km/s)</tspan></text>
<text transform="translate(823.2 203.9) rotate(-90)" text-anchor="middle" font-size="27.6px">temperature <tspan font-style="italic">T</tspan> (K)</text>
<text x="396" y="148.2" font-style="italic" font-size="28.2px">T</text>
<text x="392.8" y="272.7" font-style="italic" font-size="27.6px">u<tspan font-size="19.5px" dy="4.6" dx="-0.9">x</tspan></text>
<text x="719.3" y="33.5" font-style="italic" font-size="28.2px">T<tspan font-size="18.6px" dy="5.2" dx="-0.7">R</tspan></text>
</g>
</svg>
</body>
</html>
